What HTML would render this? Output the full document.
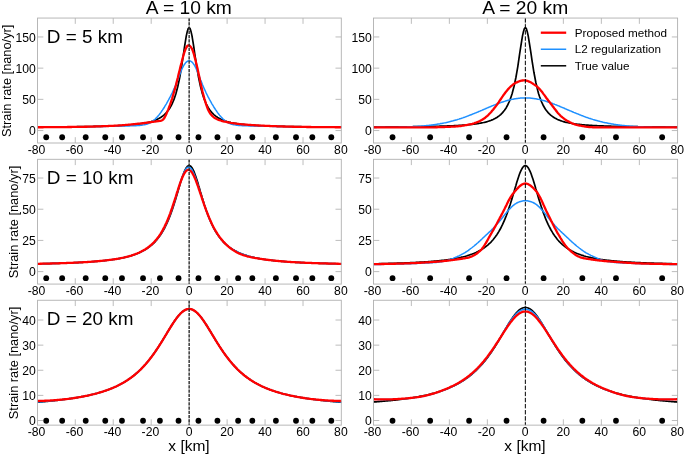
<!DOCTYPE html>
<html><head><meta charset="utf-8"><title>Strain rate</title>
<style>html,body{margin:0;padding:0;background:#fff;}body{width:685px;height:455px;overflow:hidden;font-family:"Liberation Sans",sans-serif;}svg{display:block;will-change:transform;}</style></head>
<body>
<svg width="685" height="455" viewBox="0 0 685 455" font-family="Liberation Sans, sans-serif" fill="#000">
<rect width="685" height="455" fill="#fff"/>
<defs>
<clipPath id="c00"><rect x="37.55" y="18.05" width="303.75" height="124.95"/></clipPath>
<clipPath id="c01"><rect x="373.5" y="18.05" width="304.1" height="124.95"/></clipPath>
<clipPath id="c10"><rect x="37.55" y="159.3" width="303.75" height="124.77"/></clipPath>
<clipPath id="c11"><rect x="373.5" y="159.3" width="304.1" height="124.77"/></clipPath>
<clipPath id="c20"><rect x="37.55" y="300.25" width="303.75" height="124.88"/></clipPath>
<clipPath id="c21"><rect x="373.5" y="300.25" width="304.1" height="124.88"/></clipPath>
</defs>
<g>
<path d="M75.27 143v-5.8M75.27 18.05v5.8M113.23 143v-5.8M113.23 18.05v5.8M151.19 143v-5.8M151.19 18.05v5.8M189.15 143v-5.8M189.15 18.05v5.8M227.11 143v-5.8M227.11 18.05v5.8M265.07 143v-5.8M265.07 18.05v5.8M303.03 143v-5.8M303.03 18.05v5.8M37.55 130.55h5.8M341.3 130.55h-5.8M37.55 99.35h5.8M341.3 99.35h-5.8M37.55 68.15h5.8M341.3 68.15h-5.8M37.55 36.95h5.8M341.3 36.95h-5.8" stroke="#b6b6b6" stroke-width="0.9" fill="none"/>
<g clip-path="url(#c00)" fill="none" stroke-linejoin="round">
<path d="M35.41 127.05L36.4 127.05L37.3 127.04L38.3 127.04L39.2 127.03L40.2 127.03L41.1 127.02L42.1 127.02L43 127.01L44 127.01L44.9 127L45.9 126.99L46.8 126.99L47.7 126.98L48.7 126.98L49.6 126.97L50.6 126.96L51.5 126.96L52.5 126.95L53.4 126.94L54.4 126.94L55.3 126.93L56.3 126.92L57.2 126.92L58.2 126.91L59.1 126.9L60.1 126.89L61 126.89L62 126.88L62.9 126.87L63.9 126.86L64.8 126.85L65.8 126.84L66.7 126.83L67.7 126.82L68.6 126.81L69.6 126.81L70.5 126.8L71.5 126.78L72.4 126.77L73.4 126.76L74.3 126.75L75.3 126.74L76.2 126.73L77.2 126.72L78.1 126.71L79.1 126.69L80 126.68L81 126.67L81.9 126.65L82.9 126.64L83.8 126.63L84.8 126.61L85.7 126.6L86.7 126.58L87.6 126.57L88.6 126.55L89.5 126.53L90.5 126.52L91.4 126.5L92.4 126.48L93.3 126.46L94.3 126.44L95.2 126.42L96.1 126.4L97.1 126.38L98 126.36L99 126.34L99.9 126.31L100.9 126.29L101.8 126.26L102.8 126.24L103.7 126.21L104.7 126.19L105.6 126.16L106.6 126.13L107.5 126.1L108.5 126.07L109.4 126.03L110.4 126L111.3 125.97L112.3 125.93L113.2 125.89L114.2 125.86L115.1 125.82L116.1 125.77L117 125.73L118 125.69L118.9 125.64L119.9 125.59L120.8 125.54L121.8 125.49L122.7 125.43L123.7 125.38L124.6 125.32L125.6 125.25L126.5 125.19L127.5 125.12L128.4 125.05L129.4 124.98L130.3 124.9L131.3 124.82L132.2 124.73L133.2 124.64L134.1 124.55L135.1 124.45L136 124.34L137 124.24L137.9 124.12L138.9 124L139.8 123.87L140.8 123.73L141.7 123.59L142.6 123.44L143.6 123.28L144.5 123.11L145.5 122.92L146.4 122.73L147.4 122.53L148.3 122.31L149.3 122.07L150.2 121.82L151.2 121.56L152.1 121.27L153.1 120.96L154 120.63L155 120.28L155.9 119.89L156.9 119.48L157.8 119.03L158.8 118.55L159.7 118.02L160.7 117.45L161.6 116.82L162.6 116.14L163.5 115.39L164.5 114.56L165.4 113.66L166.4 112.66L167.3 111.56L168.3 110.33L169.2 108.98L170.2 107.46L171.1 105.77L172.1 103.88L173 101.76L174 99.39L174.9 96.71L175.9 93.7L176.8 90.31L177.8 86.51L178.7 82.25L179.7 77.51L180.6 72.27L181.6 66.55L182.5 60.42L183.5 54.02L184.4 47.56L185.4 41.36L186.3 35.83L187.3 31.43L188.2 28.58L189.2 27.59L190.1 28.58L191 31.43L192 35.83L192.9 41.36L193.9 47.56L194.8 54.02L195.8 60.42L196.7 66.55L197.7 72.27L198.6 77.51L199.6 82.25L200.5 86.51L201.5 90.31L202.4 93.7L203.4 96.71L204.3 99.39L205.3 101.76L206.2 103.88L207.2 105.77L208.1 107.46L209.1 108.98L210 110.33L211 111.56L211.9 112.66L212.9 113.66L213.8 114.56L214.8 115.39L215.7 116.14L216.7 116.82L217.6 117.45L218.6 118.02L219.5 118.55L220.5 119.03L221.4 119.48L222.4 119.89L223.3 120.28L224.3 120.63L225.2 120.96L226.2 121.27L227.1 121.56L228.1 121.82L229 122.07L230 122.31L230.9 122.53L231.9 122.73L232.8 122.92L233.8 123.11L234.7 123.28L235.7 123.44L236.6 123.59L237.5 123.73L238.5 123.87L239.4 124L240.4 124.12L241.3 124.24L242.3 124.34L243.2 124.45L244.2 124.55L245.1 124.64L246.1 124.73L247 124.82L248 124.9L248.9 124.98L249.9 125.05L250.8 125.12L251.8 125.19L252.7 125.25L253.7 125.32L254.6 125.38L255.6 125.43L256.5 125.49L257.5 125.54L258.4 125.59L259.4 125.64L260.3 125.69L261.3 125.73L262.2 125.77L263.2 125.82L264.1 125.86L265.1 125.89L266 125.93L267 125.97L267.9 126L268.9 126.03L269.8 126.07L270.8 126.1L271.7 126.13L272.7 126.16L273.6 126.19L274.6 126.21L275.5 126.24L276.5 126.26L277.4 126.29L278.4 126.31L279.3 126.34L280.3 126.36L281.2 126.38L282.2 126.4L283.1 126.42L284.1 126.44L285 126.46L285.9 126.48L286.9 126.5L287.8 126.52L288.8 126.53L289.7 126.55L290.7 126.57L291.6 126.58L292.6 126.6L293.5 126.61L294.5 126.63L295.4 126.64L296.4 126.65L297.3 126.67L298.3 126.68L299.2 126.69L300.2 126.71L301.1 126.72L302.1 126.73L303 126.74L304 126.75L304.9 126.76L305.9 126.77L306.8 126.78L307.8 126.8L308.7 126.81L309.7 126.81L310.6 126.82L311.6 126.83L312.5 126.84L313.5 126.85L314.4 126.86L315.4 126.87L316.3 126.88L317.3 126.89L318.2 126.89L319.2 126.9L320.1 126.91L321.1 126.92L322 126.92L323 126.93L323.9 126.94L324.9 126.94L325.8 126.95L326.8 126.96L327.7 126.96L328.7 126.97L329.6 126.98L330.6 126.98L331.5 126.99L332.4 126.99L333.4 127L334.3 127.01L335.3 127.01L336.2 127.02L337.2 127.02L338.1 127.03L339.1 127.03L340 127.04L341 127.04L341.9 127.05L342.9 127.05" stroke="#000" stroke-width="1.7"/>
<path d="M35.41 127.18L36.4 127.18L37.3 127.17L38.3 127.17L39.2 127.17L40.2 127.16L41.1 127.16L42.1 127.15L43 127.15L44 127.14L44.9 127.14L45.9 127.13L46.8 127.12L47.7 127.12L48.7 127.11L49.6 127.1L50.6 127.1L51.5 127.09L52.5 127.08L53.4 127.08L54.4 127.07L55.3 127.06L56.3 127.05L57.2 127.04L58.2 127.04L59.1 127.03L60.1 127.02L61 127.01L62 127L62.9 126.99L63.9 126.98L64.8 126.97L65.8 126.97L66.7 126.96L67.7 126.95L68.6 126.94L69.6 126.93L70.5 126.92L71.5 126.91L72.4 126.9L73.4 126.89L74.3 126.88L75.3 126.87L76.2 126.86L77.2 126.85L78.1 126.84L79.1 126.82L80 126.81L81 126.8L81.9 126.79L82.9 126.77L83.8 126.76L84.8 126.75L85.7 126.73L86.7 126.72L87.6 126.7L88.6 126.69L89.5 126.67L90.5 126.66L91.4 126.64L92.4 126.63L93.3 126.61L94.3 126.59L95.2 126.58L96.1 126.56L97.1 126.54L98 126.53L99 126.51L99.9 126.49L100.9 126.47L101.8 126.46L102.8 126.44L103.7 126.42L104.7 126.4L105.6 126.39L106.6 126.37L107.5 126.35L108.5 126.33L109.4 126.32L110.4 126.3L111.3 126.28L112.3 126.26L113.2 126.24L114.2 126.23L115.1 126.21L116.1 126.19L117 126.18L118 126.16L118.9 126.14L119.9 126.13L120.8 126.11L121.8 126.09L122.7 126.07L123.7 126.05L124.6 126.03L125.6 126.01L126.5 125.98L127.5 125.96L128.4 125.93L129.4 125.9L130.3 125.87L131.3 125.84L132.2 125.81L133.2 125.77L134.1 125.73L135.1 125.68L136 125.63L137 125.58L137.9 125.52L138.9 125.45L139.8 125.38L140.8 125.28L141.7 125.17L142.6 125.04L143.6 124.88L144.5 124.69L145.5 124.48L146.4 124.24L147.4 123.96L148.3 123.62L149.3 123.2L150.2 122.72L151.2 122.18L152.1 121.57L153.1 120.9L154 120.14L155 119.28L155.9 118.36L156.9 117.36L157.8 116.3L158.8 115.17L159.7 113.95L160.7 112.66L161.6 111.31L162.6 109.92L163.5 108.48L164.5 106.99L165.4 105.44L166.4 103.84L167.3 102.18L168.3 100.48L169.2 98.71L170.2 96.89L171.1 95L172.1 93.05L173 91.03L174 88.92L174.9 86.73L175.9 84.45L176.8 82.11L177.8 79.7L178.7 77.2L179.7 74.65L180.6 72.16L181.6 69.86L182.5 67.81L183.5 66L184.4 64.42L185.4 63.11L186.3 62.11L187.3 61.38L188.2 60.91L189.2 60.75L190.1 60.91L191 61.38L192 62.11L192.9 63.11L193.9 64.42L194.8 66L195.8 67.81L196.7 69.86L197.7 72.16L198.6 74.65L199.6 77.2L200.5 79.7L201.5 82.11L202.4 84.45L203.4 86.73L204.3 88.92L205.3 91.03L206.2 93.05L207.2 95L208.1 96.89L209.1 98.71L210 100.48L211 102.18L211.9 103.84L212.9 105.44L213.8 106.99L214.8 108.48L215.7 109.92L216.7 111.31L217.6 112.66L218.6 113.95L219.5 115.17L220.5 116.3L221.4 117.36L222.4 118.36L223.3 119.28L224.3 120.14L225.2 120.9L226.2 121.57L227.1 122.18L228.1 122.72L229 123.2L230 123.62L230.9 123.96L231.9 124.24L232.8 124.48L233.8 124.69L234.7 124.88L235.7 125.04L236.6 125.17L237.5 125.28L238.5 125.38L239.4 125.45L240.4 125.52L241.3 125.58L242.3 125.63L243.2 125.68L244.2 125.73L245.1 125.77L246.1 125.81L247 125.84L248 125.87L248.9 125.9L249.9 125.93L250.8 125.96L251.8 125.98L252.7 126.01L253.7 126.03L254.6 126.05L255.6 126.07L256.5 126.09L257.5 126.11L258.4 126.13L259.4 126.14L260.3 126.16L261.3 126.18L262.2 126.19L263.2 126.21L264.1 126.23L265.1 126.24L266 126.26L267 126.28L267.9 126.3L268.9 126.32L269.8 126.33L270.8 126.35L271.7 126.37L272.7 126.39L273.6 126.4L274.6 126.42L275.5 126.44L276.5 126.46L277.4 126.47L278.4 126.49L279.3 126.51L280.3 126.53L281.2 126.54L282.2 126.56L283.1 126.58L284.1 126.59L285 126.61L285.9 126.63L286.9 126.64L287.8 126.66L288.8 126.67L289.7 126.69L290.7 126.7L291.6 126.72L292.6 126.73L293.5 126.75L294.5 126.76L295.4 126.77L296.4 126.79L297.3 126.8L298.3 126.81L299.2 126.82L300.2 126.84L301.1 126.85L302.1 126.86L303 126.87L304 126.88L304.9 126.89L305.9 126.9L306.8 126.91L307.8 126.92L308.7 126.93L309.7 126.94L310.6 126.95L311.6 126.96L312.5 126.97L313.5 126.97L314.4 126.98L315.4 126.99L316.3 127L317.3 127.01L318.2 127.02L319.2 127.03L320.1 127.04L321.1 127.04L322 127.05L323 127.06L323.9 127.07L324.9 127.08L325.8 127.08L326.8 127.09L327.7 127.1L328.7 127.1L329.6 127.11L330.6 127.12L331.5 127.12L332.4 127.13L333.4 127.14L334.3 127.14L335.3 127.15L336.2 127.15L337.2 127.16L338.1 127.16L339.1 127.17L340 127.17L341 127.17L341.9 127.18L342.9 127.18" stroke="#1e90ff" stroke-width="1.5"/>
<path d="M35.41 127.24L36.4 127.24L37.3 127.24L38.3 127.24L39.2 127.24L40.2 127.24L41.1 127.23L42.1 127.23L43 127.23L44 127.22L44.9 127.22L45.9 127.21L46.8 127.21L47.7 127.2L48.7 127.2L49.6 127.19L50.6 127.19L51.5 127.18L52.5 127.17L53.4 127.16L54.4 127.16L55.3 127.15L56.3 127.14L57.2 127.13L58.2 127.12L59.1 127.11L60.1 127.1L61 127.09L62 127.09L62.9 127.08L63.9 127.06L64.8 127.05L65.8 127.04L66.7 127.03L67.7 127.02L68.6 127.01L69.6 127L70.5 126.99L71.5 126.98L72.4 126.97L73.4 126.95L74.3 126.94L75.3 126.93L76.2 126.92L77.2 126.9L78.1 126.89L79.1 126.88L80 126.86L81 126.84L81.9 126.83L82.9 126.81L83.8 126.79L84.8 126.77L85.7 126.75L86.7 126.73L87.6 126.7L88.6 126.68L89.5 126.66L90.5 126.63L91.4 126.61L92.4 126.58L93.3 126.55L94.3 126.52L95.2 126.5L96.1 126.47L97.1 126.44L98 126.4L99 126.37L99.9 126.34L100.9 126.31L101.8 126.27L102.8 126.24L103.7 126.2L104.7 126.17L105.6 126.13L106.6 126.09L107.5 126.05L108.5 126.01L109.4 125.97L110.4 125.93L111.3 125.89L112.3 125.85L113.2 125.81L114.2 125.76L115.1 125.71L116.1 125.66L117 125.6L118 125.55L118.9 125.48L119.9 125.42L120.8 125.35L121.8 125.28L122.7 125.2L123.7 125.13L124.6 125.05L125.6 124.97L126.5 124.88L127.5 124.8L128.4 124.71L129.4 124.62L130.3 124.53L131.3 124.44L132.2 124.34L133.2 124.25L134.1 124.15L135.1 124.05L136 123.96L137 123.86L137.9 123.76L138.9 123.66L139.8 123.56L140.8 123.46L141.7 123.35L142.6 123.24L143.6 123.13L144.5 123.01L145.5 122.89L146.4 122.76L147.4 122.64L148.3 122.51L149.3 122.38L150.2 122.24L151.2 122.11L152.1 121.97L153.1 121.84L154 121.7L155 121.57L155.9 121.45L156.9 121.33L157.8 121.22L158.8 121.1L159.7 120.96L160.7 120.78L161.6 120.51L162.6 120.02L163.5 119.12L164.5 117.74L165.4 115.95L166.4 113.88L167.3 111.65L168.3 109.35L169.2 106.96L170.2 104.4L171.1 101.61L172.1 98.61L173 95.47L174 92.21L174.9 88.84L175.9 85.34L176.8 81.64L177.8 77.78L178.7 73.85L179.7 69.94L180.6 66.13L181.6 62.44L182.5 58.8L183.5 55.28L184.4 52.12L185.4 49.51L186.3 47.48L187.3 46.02L188.2 45.3L189.2 45.39L190.1 46.1L191 47.26L192 48.89L192.9 51.2L193.9 54.19L194.8 57.68L195.8 61.41L196.7 65.28L197.7 69.38L198.6 73.76L199.6 78.33L200.5 82.9L201.5 87.27L202.4 91.28L203.4 94.93L204.3 98.37L205.3 101.65L206.2 104.71L207.2 107.46L208.1 109.8L209.1 111.69L210 113.2L211 114.46L211.9 115.56L212.9 116.52L213.8 117.33L214.8 118.01L215.7 118.56L216.7 119.04L217.6 119.46L218.6 119.83L219.5 120.18L220.5 120.49L221.4 120.78L222.4 121.04L223.3 121.28L224.3 121.51L225.2 121.73L226.2 121.93L227.1 122.13L228.1 122.33L229 122.51L230 122.69L230.9 122.86L231.9 123.02L232.8 123.17L233.8 123.32L234.7 123.46L235.7 123.59L236.6 123.71L237.5 123.83L238.5 123.94L239.4 124.04L240.4 124.13L241.3 124.23L242.3 124.31L243.2 124.4L244.2 124.49L245.1 124.57L246.1 124.65L247 124.72L248 124.8L248.9 124.87L249.9 124.94L250.8 125.01L251.8 125.08L252.7 125.14L253.7 125.2L254.6 125.26L255.6 125.32L256.5 125.38L257.5 125.43L258.4 125.49L259.4 125.54L260.3 125.59L261.3 125.63L262.2 125.68L263.2 125.72L264.1 125.77L265.1 125.81L266 125.85L267 125.89L267.9 125.93L268.9 125.97L269.8 126L270.8 126.04L271.7 126.08L272.7 126.12L273.6 126.15L274.6 126.19L275.5 126.22L276.5 126.26L277.4 126.29L278.4 126.32L279.3 126.36L280.3 126.39L281.2 126.42L282.2 126.45L283.1 126.48L284.1 126.51L285 126.54L285.9 126.57L286.9 126.6L287.8 126.62L288.8 126.65L289.7 126.67L290.7 126.7L291.6 126.72L292.6 126.74L293.5 126.76L294.5 126.78L295.4 126.8L296.4 126.82L297.3 126.84L298.3 126.86L299.2 126.88L300.2 126.89L301.1 126.9L302.1 126.92L303 126.93L304 126.94L304.9 126.95L305.9 126.97L306.8 126.98L307.8 126.99L308.7 127L309.7 127.01L310.6 127.02L311.6 127.03L312.5 127.04L313.5 127.05L314.4 127.06L315.4 127.08L316.3 127.09L317.3 127.09L318.2 127.1L319.2 127.11L320.1 127.12L321.1 127.13L322 127.14L323 127.15L323.9 127.16L324.9 127.16L325.8 127.17L326.8 127.18L327.7 127.19L328.7 127.19L329.6 127.2L330.6 127.2L331.5 127.21L332.4 127.21L333.4 127.22L334.3 127.22L335.3 127.23L336.2 127.23L337.2 127.23L338.1 127.24L339.1 127.24L340 127.24L341 127.24L341.9 127.24L342.9 127.24" stroke="#ff0000" stroke-width="2.3"/>
</g>
<circle cx="46.23" cy="137.23" r="2.9" fill="#000"/>
<circle cx="62.17" cy="137.23" r="2.9" fill="#000"/>
<circle cx="85.71" cy="137.23" r="2.9" fill="#000"/>
<circle cx="105.26" cy="137.23" r="2.9" fill="#000"/>
<circle cx="121.96" cy="137.23" r="2.9" fill="#000"/>
<circle cx="143.03" cy="137.23" r="2.9" fill="#000"/>
<circle cx="159.92" cy="137.23" r="2.9" fill="#000"/>
<circle cx="178.52" cy="137.23" r="2.9" fill="#000"/>
<circle cx="198.45" cy="137.23" r="2.9" fill="#000"/>
<circle cx="217.43" cy="137.23" r="2.9" fill="#000"/>
<circle cx="238.12" cy="137.23" r="2.9" fill="#000"/>
<circle cx="252.35" cy="137.23" r="2.9" fill="#000"/>
<circle cx="275.89" cy="137.23" r="2.9" fill="#000"/>
<circle cx="296.01" cy="137.23" r="2.9" fill="#000"/>
<circle cx="312.33" cy="137.23" r="2.9" fill="#000"/>
<circle cx="331.31" cy="137.23" r="2.9" fill="#000"/>
<path d="M189.15 18.05V143" stroke="#2a2a2a" stroke-width="1.4" stroke-dasharray="3.25 1.0" fill="none"/>
<rect x="37.55" y="18.05" width="303.75" height="124.95" fill="none" stroke="#b0b0b0" stroke-width="0.9"/>
<g font-size="12.9" text-anchor="middle">
<text transform="translate(36.51 154) scale(0.945 1)">-80</text>
<text transform="translate(74.47 154) scale(0.945 1)">-60</text>
<text transform="translate(112.43 154) scale(0.945 1)">-40</text>
<text transform="translate(150.39 154) scale(0.945 1)">-20</text>
<text transform="translate(189.05 154) scale(0.945 1)">0</text>
<text transform="translate(227.01 154) scale(0.945 1)">20</text>
<text transform="translate(264.97 154) scale(0.945 1)">40</text>
<text transform="translate(302.93 154) scale(0.945 1)">60</text>
<text transform="translate(340.89 154) scale(0.945 1)">80</text>
</g>
<g font-size="12.9" text-anchor="end">
<text transform="translate(35.85 135.3) scale(0.945 1)">0</text>
<text transform="translate(35.85 104.1) scale(0.945 1)">50</text>
<text transform="translate(35.85 72.9) scale(0.945 1)">100</text>
<text transform="translate(35.85 41.7) scale(0.945 1)">150</text>
</g>
<text x="46.8" y="42.95" font-size="18.9">D = 5 km</text>
<text transform="translate(10.5 80.83) rotate(-90)" text-anchor="middle" font-size="12.8">Strain rate [nano/yr]</text>
</g>
<g>
<path d="M411.35 143v-5.8M411.35 18.05v5.8M449.35 143v-5.8M449.35 18.05v5.8M487.35 143v-5.8M487.35 18.05v5.8M525.35 143v-5.8M525.35 18.05v5.8M563.35 143v-5.8M563.35 18.05v5.8M601.35 143v-5.8M601.35 18.05v5.8M639.35 143v-5.8M639.35 18.05v5.8M373.5 130.55h5.8M677.6 130.55h-5.8M373.5 99.35h5.8M677.6 99.35h-5.8M373.5 68.15h5.8M677.6 68.15h-5.8M373.5 36.95h5.8M677.6 36.95h-5.8" stroke="#b6b6b6" stroke-width="0.9" fill="none"/>
<g clip-path="url(#c01)" fill="none" stroke-linejoin="round">
<path d="M371.45 127.05L372.4 127.05L373.4 127.04L374.3 127.04L375.2 127.03L376.2 127.03L377.2 127.02L378.1 127.02L379.1 127.01L380 127.01L381 127L381.9 126.99L382.9 126.99L383.8 126.98L384.8 126.98L385.7 126.97L386.7 126.96L387.6 126.96L388.6 126.95L389.5 126.94L390.5 126.94L391.4 126.93L392.4 126.92L393.3 126.92L394.2 126.91L395.2 126.9L396.2 126.89L397.1 126.89L398.1 126.88L399 126.87L400 126.86L400.9 126.85L401.9 126.84L402.8 126.83L403.8 126.82L404.7 126.81L405.7 126.81L406.6 126.8L407.6 126.78L408.5 126.77L409.5 126.76L410.4 126.75L411.4 126.74L412.3 126.73L413.2 126.72L414.2 126.71L415.2 126.69L416.1 126.68L417.1 126.67L418 126.65L419 126.64L419.9 126.63L420.9 126.61L421.8 126.6L422.8 126.58L423.7 126.57L424.7 126.55L425.6 126.53L426.6 126.52L427.5 126.5L428.5 126.48L429.4 126.46L430.4 126.44L431.3 126.42L432.2 126.4L433.2 126.38L434.2 126.36L435.1 126.34L436.1 126.31L437 126.29L438 126.26L438.9 126.24L439.9 126.21L440.8 126.19L441.8 126.16L442.7 126.13L443.7 126.1L444.6 126.07L445.6 126.03L446.5 126L447.5 125.97L448.4 125.93L449.4 125.89L450.3 125.86L451.2 125.82L452.2 125.77L453.2 125.73L454.1 125.69L455.1 125.64L456 125.59L457 125.54L457.9 125.49L458.9 125.43L459.8 125.38L460.8 125.32L461.7 125.25L462.7 125.19L463.6 125.12L464.6 125.05L465.5 124.98L466.5 124.9L467.4 124.82L468.4 124.73L469.3 124.64L470.2 124.55L471.2 124.45L472.2 124.34L473.1 124.24L474.1 124.12L475 124L476 123.87L476.9 123.73L477.9 123.59L478.8 123.44L479.8 123.28L480.7 123.11L481.7 122.92L482.6 122.73L483.6 122.53L484.5 122.31L485.5 122.07L486.4 121.82L487.4 121.56L488.3 121.27L489.2 120.96L490.2 120.63L491.2 120.28L492.1 119.89L493.1 119.48L494 119.03L495 118.55L495.9 118.02L496.9 117.45L497.8 116.82L498.8 116.14L499.7 115.39L500.7 114.56L501.6 113.66L502.6 112.66L503.5 111.56L504.5 110.33L505.4 108.98L506.4 107.46L507.3 105.77L508.2 103.88L509.2 101.76L510.2 99.39L511.1 96.71L512.1 93.7L513 90.31L514 86.51L514.9 82.25L515.9 77.51L516.8 72.27L517.8 66.55L518.7 60.42L519.6 54.02L520.6 47.56L521.6 41.36L522.5 35.83L523.5 31.43L524.4 28.58L525.4 27.59L526.3 28.58L527.2 31.43L528.2 35.83L529.1 41.36L530.1 47.56L531.1 54.02L532 60.42L533 66.55L533.9 72.27L534.9 77.51L535.8 82.25L536.8 86.51L537.7 90.31L538.6 93.7L539.6 96.71L540.6 99.39L541.5 101.76L542.5 103.88L543.4 105.77L544.4 107.46L545.3 108.98L546.2 110.33L547.2 111.56L548.1 112.66L549.1 113.66L550.1 114.56L551 115.39L552 116.14L552.9 116.82L553.9 117.45L554.8 118.02L555.8 118.55L556.7 119.03L557.6 119.48L558.6 119.89L559.6 120.28L560.5 120.63L561.5 120.96L562.4 121.27L563.4 121.56L564.3 121.82L565.2 122.07L566.2 122.31L567.1 122.53L568.1 122.73L569.1 122.92L570 123.11L571 123.28L571.9 123.44L572.9 123.59L573.8 123.73L574.8 123.87L575.7 124L576.6 124.12L577.6 124.24L578.6 124.34L579.5 124.45L580.5 124.55L581.4 124.64L582.4 124.73L583.3 124.82L584.2 124.9L585.2 124.98L586.1 125.05L587.1 125.12L588.1 125.19L589 125.25L590 125.32L590.9 125.38L591.9 125.43L592.8 125.49L593.8 125.54L594.7 125.59L595.6 125.64L596.6 125.69L597.6 125.73L598.5 125.77L599.5 125.82L600.4 125.86L601.4 125.89L602.3 125.93L603.2 125.97L604.2 126L605.1 126.03L606.1 126.07L607.1 126.1L608 126.13L609 126.16L609.9 126.19L610.9 126.21L611.8 126.24L612.8 126.26L613.7 126.29L614.6 126.31L615.6 126.34L616.5 126.36L617.5 126.38L618.5 126.4L619.4 126.42L620.4 126.44L621.3 126.46L622.2 126.48L623.2 126.5L624.1 126.52L625.1 126.53L626 126.55L627 126.57L628 126.58L628.9 126.6L629.9 126.61L630.8 126.63L631.8 126.64L632.7 126.65L633.6 126.67L634.6 126.68L635.5 126.69L636.5 126.71L637.5 126.72L638.4 126.73L639.4 126.74L640.3 126.75L641.2 126.76L642.2 126.77L643.1 126.78L644.1 126.8L645 126.81L646 126.81L647 126.82L647.9 126.83L648.9 126.84L649.8 126.85L650.8 126.86L651.7 126.87L652.6 126.88L653.6 126.89L654.5 126.89L655.5 126.9L656.5 126.91L657.4 126.92L658.4 126.92L659.3 126.93L660.2 126.94L661.2 126.94L662.1 126.95L663.1 126.96L664 126.96L665 126.97L666 126.98L666.9 126.98L667.9 126.99L668.8 126.99L669.8 127L670.7 127.01L671.6 127.01L672.6 127.02L673.5 127.02L674.5 127.03L675.5 127.03L676.4 127.04L677.4 127.04L678.3 127.05L679.2 127.05" stroke="#000" stroke-width="1.7"/>
<path d="M371.45 127.4L372.4 127.39L373.4 127.39L374.3 127.39L375.2 127.38L376.2 127.38L377.2 127.37L378.1 127.37L379.1 127.37L380 127.36L381 127.35L381.9 127.35L382.9 127.34L383.8 127.33L384.8 127.33L385.7 127.32L386.7 127.31L387.6 127.3L388.6 127.29L389.5 127.28L390.5 127.27L391.4 127.26L392.4 127.24L393.3 127.23L394.2 127.21L395.2 127.2L396.2 127.18L397.1 127.16L398.1 127.14L399 127.12L400 127.1L400.9 127.08L401.9 127.05L402.8 127.03L403.8 127L404.7 126.97L405.7 126.94L406.6 126.91L407.6 126.87L408.5 126.84L409.5 126.8L410.4 126.76L411.4 126.71L412.3 126.67L413.2 126.62L414.2 126.57L415.2 126.52L416.1 126.46L417.1 126.4L418 126.34L419 126.27L419.9 126.21L420.9 126.13L421.8 126.06L422.8 125.98L423.7 125.9L424.7 125.81L425.6 125.72L426.6 125.62L427.5 125.52L428.5 125.42L429.4 125.31L430.4 125.2L431.3 125.08L432.2 124.96L433.2 124.83L434.2 124.7L435.1 124.56L436.1 124.42L437 124.27L438 124.11L438.9 123.95L439.9 123.79L440.8 123.61L441.8 123.44L442.7 123.25L443.7 123.06L444.6 122.86L445.6 122.66L446.5 122.45L447.5 122.23L448.4 122.01L449.4 121.78L450.3 121.54L451.2 121.3L452.2 121.05L453.2 120.79L454.1 120.53L455.1 120.25L456 119.98L457 119.69L457.9 119.4L458.9 119.1L459.8 118.8L460.8 118.49L461.7 118.17L462.7 117.85L463.6 117.52L464.6 117.18L465.5 116.84L466.5 116.49L467.4 116.14L468.4 115.78L469.3 115.42L470.2 115.05L471.2 114.68L472.2 114.3L473.1 113.92L474.1 113.53L475 113.14L476 112.75L476.9 112.35L477.9 111.95L478.8 111.55L479.8 111.15L480.7 110.75L481.7 110.34L482.6 109.93L483.6 109.53L484.5 109.12L485.5 108.71L486.4 108.31L487.4 107.91L488.3 107.5L489.2 107.1L490.2 106.7L491.2 106.31L492.1 105.92L493.1 105.53L494 105.15L495 104.77L495.9 104.4L496.9 104.04L497.8 103.68L498.8 103.32L499.7 102.98L500.7 102.64L501.6 102.31L502.6 101.99L503.5 101.68L504.5 101.38L505.4 101.09L506.4 100.81L507.3 100.54L508.2 100.28L509.2 100.04L510.2 99.8L511.1 99.58L512.1 99.37L513 99.18L514 98.99L514.9 98.82L515.9 98.67L516.8 98.53L517.8 98.4L518.7 98.29L519.6 98.19L520.6 98.1L521.6 98.04L522.5 97.98L523.5 97.95L524.4 97.92L525.4 97.91L526.3 97.92L527.2 97.95L528.2 97.98L529.1 98.04L530.1 98.1L531.1 98.19L532 98.29L533 98.4L533.9 98.53L534.9 98.67L535.8 98.82L536.8 98.99L537.7 99.18L538.6 99.37L539.6 99.58L540.6 99.8L541.5 100.04L542.5 100.28L543.4 100.54L544.4 100.81L545.3 101.09L546.2 101.38L547.2 101.68L548.1 101.99L549.1 102.31L550.1 102.64L551 102.98L552 103.32L552.9 103.68L553.9 104.04L554.8 104.4L555.8 104.77L556.7 105.15L557.6 105.53L558.6 105.92L559.6 106.31L560.5 106.7L561.5 107.1L562.4 107.5L563.4 107.91L564.3 108.31L565.2 108.71L566.2 109.12L567.1 109.53L568.1 109.93L569.1 110.34L570 110.75L571 111.15L571.9 111.55L572.9 111.95L573.8 112.35L574.8 112.75L575.7 113.14L576.6 113.53L577.6 113.92L578.6 114.3L579.5 114.68L580.5 115.05L581.4 115.42L582.4 115.78L583.3 116.14L584.2 116.49L585.2 116.84L586.1 117.18L587.1 117.52L588.1 117.85L589 118.17L590 118.49L590.9 118.8L591.9 119.1L592.8 119.4L593.8 119.69L594.7 119.98L595.6 120.25L596.6 120.53L597.6 120.79L598.5 121.05L599.5 121.3L600.4 121.54L601.4 121.78L602.3 122.01L603.2 122.23L604.2 122.45L605.1 122.66L606.1 122.86L607.1 123.06L608 123.25L609 123.44L609.9 123.61L610.9 123.79L611.8 123.95L612.8 124.11L613.7 124.27L614.6 124.42L615.6 124.56L616.5 124.7L617.5 124.83L618.5 124.96L619.4 125.08L620.4 125.2L621.3 125.31L622.2 125.42L623.2 125.52L624.1 125.62L625.1 125.72L626 125.81L627 125.9L628 125.98L628.9 126.06L629.9 126.13L630.8 126.21L631.8 126.27L632.7 126.34L633.6 126.4L634.6 126.46L635.5 126.52L636.5 126.57L637.5 126.62L638.4 126.67L639.4 126.71L640.3 126.76L641.2 126.8L642.2 126.84L643.1 126.87L644.1 126.91L645 126.94L646 126.97L647 127L647.9 127.03L648.9 127.05L649.8 127.08L650.8 127.1L651.7 127.12L652.6 127.14L653.6 127.16L654.5 127.18L655.5 127.2L656.5 127.21L657.4 127.23L658.4 127.24L659.3 127.26L660.2 127.27L661.2 127.28L662.1 127.29L663.1 127.3L664 127.31L665 127.32L666 127.33L666.9 127.33L667.9 127.34L668.8 127.35L669.8 127.35L670.7 127.36L671.6 127.37L672.6 127.37L673.5 127.37L674.5 127.38L675.5 127.38L676.4 127.39L677.4 127.39L678.3 127.39L679.2 127.4" stroke="#1e90ff" stroke-width="1.5"/>
<path d="M371.45 127.37L372.4 127.37L373.4 127.37L374.3 127.37L375.2 127.37L376.2 127.37L377.2 127.37L378.1 127.37L379.1 127.37L380 127.37L381 127.37L381.9 127.37L382.9 127.37L383.8 127.37L384.8 127.37L385.7 127.37L386.7 127.37L387.6 127.37L388.6 127.37L389.5 127.37L390.5 127.37L391.4 127.37L392.4 127.37L393.3 127.37L394.2 127.37L395.2 127.37L396.2 127.37L397.1 127.37L398.1 127.37L399 127.37L400 127.37L400.9 127.37L401.9 127.37L402.8 127.37L403.8 127.37L404.7 127.37L405.7 127.37L406.6 127.37L407.6 127.37L408.5 127.37L409.5 127.37L410.4 127.37L411.4 127.37L412.3 127.37L413.2 127.37L414.2 127.37L415.2 127.37L416.1 127.37L417.1 127.37L418 127.37L419 127.37L419.9 127.37L420.9 127.37L421.8 127.37L422.8 127.37L423.7 127.37L424.7 127.37L425.6 127.37L426.6 127.37L427.5 127.36L428.5 127.36L429.4 127.36L430.4 127.35L431.3 127.34L432.2 127.33L433.2 127.32L434.2 127.3L435.1 127.28L436.1 127.27L437 127.24L438 127.22L438.9 127.2L439.9 127.17L440.8 127.14L441.8 127.11L442.7 127.08L443.7 127.04L444.6 127.01L445.6 126.97L446.5 126.93L447.5 126.89L448.4 126.85L449.4 126.81L450.3 126.76L451.2 126.72L452.2 126.67L453.2 126.62L454.1 126.57L455.1 126.52L456 126.45L457 126.38L457.9 126.3L458.9 126.21L459.8 126.11L460.8 125.99L461.7 125.86L462.7 125.72L463.6 125.57L464.6 125.41L465.5 125.24L466.5 125.06L467.4 124.87L468.4 124.67L469.3 124.47L470.2 124.25L471.2 124.02L472.2 123.78L473.1 123.53L474.1 123.25L475 122.95L476 122.62L476.9 122.25L477.9 121.86L478.8 121.43L479.8 120.98L480.7 120.49L481.7 119.97L482.6 119.42L483.6 118.83L484.5 118.19L485.5 117.49L486.4 116.73L487.4 115.89L488.3 114.98L489.2 114.01L490.2 112.99L491.2 111.92L492.1 110.82L493.1 109.69L494 108.53L495 107.34L495.9 106.11L496.9 104.84L497.8 103.51L498.8 102.13L499.7 100.71L500.7 99.27L501.6 97.84L502.6 96.43L503.5 95.07L504.5 93.77L505.4 92.52L506.4 91.33L507.3 90.19L508.2 89.09L509.2 88.04L510.2 87.04L511.1 86.12L512.1 85.29L513 84.55L514 83.9L514.9 83.33L515.9 82.82L516.8 82.35L517.8 81.92L518.7 81.53L519.6 81.19L520.6 80.89L521.6 80.65L522.5 80.48L523.5 80.39L524.4 80.38L525.4 80.45L526.3 80.61L527.2 80.86L528.2 81.18L529.1 81.58L530.1 82.04L531.1 82.55L532 83.11L533 83.71L533.9 84.34L534.9 84.99L535.8 85.69L536.8 86.43L537.7 87.23L538.6 88.12L539.6 89.11L540.6 90.18L541.5 91.34L542.5 92.57L543.4 93.84L544.4 95.14L545.3 96.44L546.2 97.74L547.2 99.01L548.1 100.27L549.1 101.51L550.1 102.75L551 104L552 105.26L552.9 106.53L553.9 107.8L554.8 109.06L555.8 110.3L556.7 111.51L557.6 112.67L558.6 113.77L559.6 114.81L560.5 115.77L561.5 116.65L562.4 117.45L563.4 118.19L564.3 118.88L565.2 119.53L566.2 120.15L567.1 120.74L568.1 121.3L569.1 121.84L570 122.34L571 122.82L571.9 123.26L572.9 123.66L573.8 124.03L574.8 124.36L575.7 124.65L576.6 124.91L577.6 125.14L578.6 125.35L579.5 125.55L580.5 125.74L581.4 125.91L582.4 126.08L583.3 126.24L584.2 126.4L585.2 126.54L586.1 126.67L587.1 126.79L588.1 126.9L589 127L590 127.08L590.9 127.15L591.9 127.21L592.8 127.25L593.8 127.28L594.7 127.3L595.6 127.32L596.6 127.33L597.6 127.34L598.5 127.34L599.5 127.35L600.4 127.36L601.4 127.36L602.3 127.37L603.2 127.38L604.2 127.38L605.1 127.39L606.1 127.39L607.1 127.4L608 127.4L609 127.41L609.9 127.41L610.9 127.41L611.8 127.42L612.8 127.42L613.7 127.42L614.6 127.42L615.6 127.43L616.5 127.43L617.5 127.43L618.5 127.43L619.4 127.43L620.4 127.43L621.3 127.43L622.2 127.43L623.2 127.43L624.1 127.43L625.1 127.43L626 127.43L627 127.43L628 127.43L628.9 127.43L629.9 127.43L630.8 127.43L631.8 127.43L632.7 127.43L633.6 127.43L634.6 127.43L635.5 127.43L636.5 127.43L637.5 127.43L638.4 127.43L639.4 127.43L640.3 127.43L641.2 127.43L642.2 127.43L643.1 127.43L644.1 127.43L645 127.43L646 127.43L647 127.43L647.9 127.43L648.9 127.43L649.8 127.43L650.8 127.43L651.7 127.43L652.6 127.43L653.6 127.43L654.5 127.43L655.5 127.43L656.5 127.43L657.4 127.43L658.4 127.43L659.3 127.43L660.2 127.43L661.2 127.43L662.1 127.43L663.1 127.43L664 127.43L665 127.43L666 127.43L666.9 127.43L667.9 127.43L668.8 127.43L669.8 127.43L670.7 127.43L671.6 127.43L672.6 127.43L673.5 127.43L674.5 127.43L675.5 127.43L676.4 127.43L677.4 127.43L678.3 127.43L679.2 127.43" stroke="#ff0000" stroke-width="2.3"/>
</g>
<circle cx="392.54" cy="137.23" r="2.9" fill="#000"/>
<circle cx="430.16" cy="137.23" r="2.9" fill="#000"/>
<circle cx="469.11" cy="137.23" r="2.9" fill="#000"/>
<circle cx="506.54" cy="137.23" r="2.9" fill="#000"/>
<circle cx="543.59" cy="137.23" r="2.9" fill="#000"/>
<circle cx="582.35" cy="137.23" r="2.9" fill="#000"/>
<circle cx="615.98" cy="137.23" r="2.9" fill="#000"/>
<circle cx="662.15" cy="137.23" r="2.9" fill="#000"/>
<path d="M525.35 18.05V143" stroke="#000" stroke-width="1.0" stroke-dasharray="4.4 1.7" fill="none"/>
<rect x="373.5" y="18.05" width="304.1" height="124.95" fill="none" stroke="#b0b0b0" stroke-width="0.9"/>
<g font-size="12.9" text-anchor="middle">
<text transform="translate(372.55 154) scale(0.945 1)">-80</text>
<text transform="translate(410.55 154) scale(0.945 1)">-60</text>
<text transform="translate(448.55 154) scale(0.945 1)">-40</text>
<text transform="translate(486.55 154) scale(0.945 1)">-20</text>
<text transform="translate(525.25 154) scale(0.945 1)">0</text>
<text transform="translate(563.25 154) scale(0.945 1)">20</text>
<text transform="translate(601.25 154) scale(0.945 1)">40</text>
<text transform="translate(639.25 154) scale(0.945 1)">60</text>
<text transform="translate(677.25 154) scale(0.945 1)">80</text>
</g>
<g font-size="12.9" text-anchor="end">
<text transform="translate(371.8 135.3) scale(0.945 1)">0</text>
<text transform="translate(371.8 104.1) scale(0.945 1)">50</text>
<text transform="translate(371.8 72.9) scale(0.945 1)">100</text>
<text transform="translate(371.8 41.7) scale(0.945 1)">150</text>
</g>
</g>
<g>
<path d="M75.27 284.07v-5.8M75.27 159.3v5.8M113.23 284.07v-5.8M113.23 159.3v5.8M151.19 284.07v-5.8M151.19 159.3v5.8M189.15 284.07v-5.8M189.15 159.3v5.8M227.11 284.07v-5.8M227.11 159.3v5.8M265.07 284.07v-5.8M265.07 159.3v5.8M303.03 284.07v-5.8M303.03 159.3v5.8M37.55 271.6h5.8M341.3 271.6h-5.8M37.55 240.41h5.8M341.3 240.41h-5.8M37.55 209.22h5.8M341.3 209.22h-5.8M37.55 178.02h5.8M341.3 178.02h-5.8" stroke="#b6b6b6" stroke-width="0.9" fill="none"/>
<g clip-path="url(#c10)" fill="none" stroke-linejoin="round">
<path d="M35.41 263.86L36.4 263.84L37.3 263.83L38.3 263.81L39.2 263.79L40.2 263.77L41.1 263.75L42.1 263.73L43 263.71L44 263.68L44.9 263.66L45.9 263.64L46.8 263.62L47.7 263.59L48.7 263.57L49.6 263.55L50.6 263.52L51.5 263.5L52.5 263.47L53.4 263.45L54.4 263.42L55.3 263.39L56.3 263.37L57.2 263.34L58.2 263.31L59.1 263.28L60.1 263.25L61 263.22L62 263.19L62.9 263.15L63.9 263.12L64.8 263.09L65.8 263.05L66.7 263.02L67.7 262.98L68.6 262.95L69.6 262.91L70.5 262.87L71.5 262.83L72.4 262.79L73.4 262.75L74.3 262.71L75.3 262.66L76.2 262.62L77.2 262.57L78.1 262.53L79.1 262.48L80 262.43L81 262.38L81.9 262.33L82.9 262.28L83.8 262.22L84.8 262.17L85.7 262.11L86.7 262.05L87.6 261.99L88.6 261.93L89.5 261.87L90.5 261.8L91.4 261.73L92.4 261.67L93.3 261.6L94.3 261.52L95.2 261.45L96.1 261.37L97.1 261.29L98 261.21L99 261.13L99.9 261.04L100.9 260.95L101.8 260.86L102.8 260.76L103.7 260.66L104.7 260.56L105.6 260.46L106.6 260.35L107.5 260.24L108.5 260.13L109.4 260.01L110.4 259.88L111.3 259.76L112.3 259.63L113.2 259.49L114.2 259.35L115.1 259.2L116.1 259.05L117 258.9L118 258.73L118.9 258.57L119.9 258.39L120.8 258.21L121.8 258.02L122.7 257.83L123.7 257.63L124.6 257.41L125.6 257.19L126.5 256.97L127.5 256.73L128.4 256.48L129.4 256.22L130.3 255.95L131.3 255.67L132.2 255.38L133.2 255.07L134.1 254.75L135.1 254.42L136 254.07L137 253.7L137.9 253.32L138.9 252.92L139.8 252.5L140.8 252.06L141.7 251.59L142.6 251.11L143.6 250.6L144.5 250.06L145.5 249.49L146.4 248.9L147.4 248.27L148.3 247.61L149.3 246.91L150.2 246.18L151.2 245.4L152.1 244.58L153.1 243.71L154 242.79L155 241.82L155.9 240.79L156.9 239.7L157.8 238.55L158.8 237.32L159.7 236.03L160.7 234.65L161.6 233.19L162.6 231.64L163.5 230L164.5 228.26L165.4 226.41L166.4 224.45L167.3 222.38L168.3 220.2L169.2 217.89L170.2 215.45L171.1 212.9L172.1 210.21L173 207.41L174 204.5L174.9 201.48L175.9 198.37L176.8 195.19L177.8 191.97L178.7 188.73L179.7 185.51L180.6 182.35L181.6 179.31L182.5 176.44L183.5 173.79L184.4 171.42L185.4 169.38L186.3 167.74L187.3 166.53L188.2 165.79L189.2 165.55L190.1 165.79L191 166.53L192 167.74L192.9 169.38L193.9 171.42L194.8 173.79L195.8 176.44L196.7 179.31L197.7 182.35L198.6 185.51L199.6 188.73L200.5 191.97L201.5 195.19L202.4 198.37L203.4 201.48L204.3 204.5L205.3 207.41L206.2 210.21L207.2 212.9L208.1 215.45L209.1 217.89L210 220.2L211 222.38L211.9 224.45L212.9 226.41L213.8 228.26L214.8 230L215.7 231.64L216.7 233.19L217.6 234.65L218.6 236.03L219.5 237.32L220.5 238.55L221.4 239.7L222.4 240.79L223.3 241.82L224.3 242.79L225.2 243.71L226.2 244.58L227.1 245.4L228.1 246.18L229 246.91L230 247.61L230.9 248.27L231.9 248.9L232.8 249.49L233.8 250.06L234.7 250.6L235.7 251.11L236.6 251.59L237.5 252.06L238.5 252.5L239.4 252.92L240.4 253.32L241.3 253.7L242.3 254.07L243.2 254.42L244.2 254.75L245.1 255.07L246.1 255.38L247 255.67L248 255.95L248.9 256.22L249.9 256.48L250.8 256.73L251.8 256.97L252.7 257.19L253.7 257.41L254.6 257.63L255.6 257.83L256.5 258.02L257.5 258.21L258.4 258.39L259.4 258.57L260.3 258.73L261.3 258.9L262.2 259.05L263.2 259.2L264.1 259.35L265.1 259.49L266 259.63L267 259.76L267.9 259.88L268.9 260.01L269.8 260.13L270.8 260.24L271.7 260.35L272.7 260.46L273.6 260.56L274.6 260.66L275.5 260.76L276.5 260.86L277.4 260.95L278.4 261.04L279.3 261.13L280.3 261.21L281.2 261.29L282.2 261.37L283.1 261.45L284.1 261.52L285 261.6L285.9 261.67L286.9 261.73L287.8 261.8L288.8 261.87L289.7 261.93L290.7 261.99L291.6 262.05L292.6 262.11L293.5 262.17L294.5 262.22L295.4 262.28L296.4 262.33L297.3 262.38L298.3 262.43L299.2 262.48L300.2 262.53L301.1 262.57L302.1 262.62L303 262.66L304 262.71L304.9 262.75L305.9 262.79L306.8 262.83L307.8 262.87L308.7 262.91L309.7 262.95L310.6 262.98L311.6 263.02L312.5 263.05L313.5 263.09L314.4 263.12L315.4 263.15L316.3 263.19L317.3 263.22L318.2 263.25L319.2 263.28L320.1 263.31L321.1 263.34L322 263.37L323 263.39L323.9 263.42L324.9 263.45L325.8 263.47L326.8 263.5L327.7 263.52L328.7 263.55L329.6 263.57L330.6 263.59L331.5 263.62L332.4 263.64L333.4 263.66L334.3 263.68L335.3 263.71L336.2 263.73L337.2 263.75L338.1 263.77L339.1 263.79L340 263.81L341 263.83L341.9 263.84L342.9 263.86" stroke="#000" stroke-width="1.7"/>
<path d="M35.41 263.86L36.4 263.84L37.3 263.82L38.3 263.81L39.2 263.79L40.2 263.77L41.1 263.75L42.1 263.73L43 263.7L44 263.68L44.9 263.66L45.9 263.64L46.8 263.62L47.7 263.59L48.7 263.57L49.6 263.55L50.6 263.52L51.5 263.5L52.5 263.47L53.4 263.44L54.4 263.42L55.3 263.39L56.3 263.36L57.2 263.34L58.2 263.31L59.1 263.28L60.1 263.25L61 263.22L62 263.18L62.9 263.15L63.9 263.12L64.8 263.09L65.8 263.05L66.7 263.02L67.7 262.98L68.6 262.94L69.6 262.91L70.5 262.87L71.5 262.83L72.4 262.79L73.4 262.75L74.3 262.7L75.3 262.66L76.2 262.62L77.2 262.57L78.1 262.52L79.1 262.48L80 262.43L81 262.38L81.9 262.33L82.9 262.27L83.8 262.22L84.8 262.16L85.7 262.11L86.7 262.05L87.6 261.99L88.6 261.92L89.5 261.86L90.5 261.8L91.4 261.73L92.4 261.66L93.3 261.59L94.3 261.52L95.2 261.44L96.1 261.36L97.1 261.28L98 261.2L99 261.12L99.9 261.03L100.9 260.94L101.8 260.85L102.8 260.75L103.7 260.65L104.7 260.55L105.6 260.45L106.6 260.34L107.5 260.23L108.5 260.11L109.4 259.99L110.4 259.87L111.3 259.74L112.3 259.61L113.2 259.47L114.2 259.33L115.1 259.19L116.1 259.04L117 258.88L118 258.72L118.9 258.55L119.9 258.37L120.8 258.19L121.8 258L122.7 257.8L123.7 257.6L124.6 257.39L125.6 257.17L126.5 256.94L127.5 256.7L128.4 256.45L129.4 256.19L130.3 255.92L131.3 255.63L132.2 255.34L133.2 255.03L134.1 254.71L135.1 254.37L136 254.02L137 253.65L137.9 253.26L138.9 252.86L139.8 252.43L140.8 251.99L141.7 251.52L142.6 251.03L143.6 250.51L144.5 249.96L145.5 249.39L146.4 248.79L147.4 248.15L148.3 247.48L149.3 246.77L150.2 246.02L151.2 245.23L152.1 244.4L153.1 243.51L154 242.58L155 241.58L155.9 240.53L156.9 239.42L157.8 238.24L158.8 236.98L159.7 235.65L160.7 234.23L161.6 232.73L162.6 231.13L163.5 229.44L164.5 227.64L165.4 225.73L166.4 223.72L167.3 221.58L168.3 219.32L169.2 216.94L170.2 214.43L171.1 211.81L172.1 209.06L173 206.2L174 203.24L174.9 200.19L175.9 197.07L176.8 193.91L177.8 190.73L178.7 187.57L179.7 184.47L180.6 181.48L181.6 178.64L182.5 176L183.5 173.63L184.4 171.55L185.4 169.84L186.3 168.51L187.3 167.61L188.2 167.16L189.2 167.16L190.1 167.61L191 168.5L192 169.8L192.9 171.49L193.9 173.51L194.8 175.83L195.8 178.39L196.7 181.14L197.7 184.03L198.6 187.03L199.6 190.09L200.5 193.16L201.5 196.23L202.4 199.26L203.4 202.23L204.3 205.12L205.3 207.91L206.2 210.61L207.2 213.2L208.1 215.68L209.1 218.04L210 220.29L211 222.43L211.9 224.46L212.9 226.38L213.8 228.2L214.8 229.92L215.7 231.55L216.7 233.08L217.6 234.53L218.6 235.9L219.5 237.2L220.5 238.42L221.4 239.57L222.4 240.66L223.3 241.69L224.3 242.67L225.2 243.59L226.2 244.46L227.1 245.28L228.1 246.07L229 246.81L230 247.51L230.9 248.17L231.9 248.81L232.8 249.41L233.8 249.98L234.7 250.52L235.7 251.03L236.6 251.52L237.5 251.99L238.5 252.44L239.4 252.86L240.4 253.26L241.3 253.65L242.3 254.02L243.2 254.37L244.2 254.71L245.1 255.03L246.1 255.34L247 255.63L248 255.92L248.9 256.19L249.9 256.45L250.8 256.7L251.8 256.94L252.7 257.17L253.7 257.39L254.6 257.6L255.6 257.8L256.5 258L257.5 258.19L258.4 258.37L259.4 258.55L260.3 258.72L261.3 258.88L262.2 259.04L263.2 259.19L264.1 259.33L265.1 259.47L266 259.61L267 259.74L267.9 259.87L268.9 259.99L269.8 260.11L270.8 260.23L271.7 260.34L272.7 260.45L273.6 260.55L274.6 260.65L275.5 260.75L276.5 260.85L277.4 260.94L278.4 261.03L279.3 261.12L280.3 261.2L281.2 261.28L282.2 261.36L283.1 261.44L284.1 261.52L285 261.59L285.9 261.66L286.9 261.73L287.8 261.8L288.8 261.86L289.7 261.92L290.7 261.99L291.6 262.05L292.6 262.11L293.5 262.16L294.5 262.22L295.4 262.27L296.4 262.33L297.3 262.38L298.3 262.43L299.2 262.48L300.2 262.52L301.1 262.57L302.1 262.62L303 262.66L304 262.7L304.9 262.75L305.9 262.79L306.8 262.83L307.8 262.87L308.7 262.91L309.7 262.94L310.6 262.98L311.6 263.02L312.5 263.05L313.5 263.09L314.4 263.12L315.4 263.15L316.3 263.18L317.3 263.22L318.2 263.25L319.2 263.28L320.1 263.31L321.1 263.34L322 263.36L323 263.39L323.9 263.42L324.9 263.44L325.8 263.47L326.8 263.5L327.7 263.52L328.7 263.55L329.6 263.57L330.6 263.59L331.5 263.62L332.4 263.64L333.4 263.66L334.3 263.68L335.3 263.7L336.2 263.73L337.2 263.75L338.1 263.77L339.1 263.79L340 263.81L341 263.82L341.9 263.84L342.9 263.86" stroke="#1e90ff" stroke-width="1.5"/>
<path d="M35.41 263.86L36.4 263.84L37.3 263.82L38.3 263.8L39.2 263.78L40.2 263.76L41.1 263.74L42.1 263.72L43 263.7L44 263.68L44.9 263.66L45.9 263.64L46.8 263.61L47.7 263.59L48.7 263.57L49.6 263.54L50.6 263.52L51.5 263.49L52.5 263.47L53.4 263.44L54.4 263.41L55.3 263.39L56.3 263.36L57.2 263.33L58.2 263.3L59.1 263.27L60.1 263.24L61 263.21L62 263.18L62.9 263.15L63.9 263.11L64.8 263.08L65.8 263.05L66.7 263.01L67.7 262.97L68.6 262.94L69.6 262.9L70.5 262.86L71.5 262.82L72.4 262.78L73.4 262.74L74.3 262.7L75.3 262.65L76.2 262.61L77.2 262.56L78.1 262.52L79.1 262.47L80 262.42L81 262.37L81.9 262.32L82.9 262.26L83.8 262.21L84.8 262.15L85.7 262.1L86.7 262.04L87.6 261.98L88.6 261.91L89.5 261.85L90.5 261.78L91.4 261.72L92.4 261.65L93.3 261.58L94.3 261.5L95.2 261.43L96.1 261.35L97.1 261.27L98 261.19L99 261.1L99.9 261.01L100.9 260.92L101.8 260.83L102.8 260.73L103.7 260.63L104.7 260.53L105.6 260.43L106.6 260.32L107.5 260.2L108.5 260.09L109.4 259.97L110.4 259.84L111.3 259.71L112.3 259.58L113.2 259.44L114.2 259.3L115.1 259.15L116.1 259L117 258.84L118 258.68L118.9 258.51L119.9 258.33L120.8 258.14L121.8 257.95L122.7 257.75L123.7 257.55L124.6 257.33L125.6 257.11L126.5 256.87L127.5 256.63L128.4 256.38L129.4 256.11L130.3 255.84L131.3 255.55L132.2 255.25L133.2 254.94L134.1 254.61L135.1 254.27L136 253.91L137 253.53L137.9 253.14L138.9 252.73L139.8 252.29L140.8 251.84L141.7 251.36L142.6 250.86L143.6 250.33L144.5 249.77L145.5 249.19L146.4 248.57L147.4 247.92L148.3 247.23L149.3 246.5L150.2 245.74L151.2 244.92L152.1 244.06L153.1 243.16L154 242.19L155 241.17L155.9 240.09L156.9 238.94L157.8 237.72L158.8 236.42L159.7 235.05L160.7 233.59L161.6 232.04L162.6 230.39L163.5 228.65L164.5 226.8L165.4 224.84L166.4 222.77L167.3 220.58L168.3 218.28L169.2 215.87L170.2 213.34L171.1 210.7L172.1 207.96L173 205.13L174 202.22L174.9 199.25L175.9 196.25L176.8 193.24L177.8 190.26L178.7 187.33L179.7 184.49L180.6 181.8L181.6 179.28L182.5 176.98L183.5 174.95L184.4 173.21L185.4 171.81L186.3 170.77L187.3 170.1L188.2 169.83L189.2 169.94L190.1 170.45L191 171.32L192 172.55L192.9 174.11L193.9 175.95L194.8 178.05L195.8 180.37L196.7 182.86L197.7 185.5L198.6 188.24L199.6 191.04L200.5 193.89L201.5 196.74L202.4 199.58L203.4 202.38L204.3 205.12L205.3 207.8L206.2 210.4L207.2 212.91L208.1 215.32L209.1 217.64L210 219.86L211 221.98L211.9 224L212.9 225.92L213.8 227.75L214.8 229.48L215.7 231.13L216.7 232.69L217.6 234.17L218.6 235.57L219.5 236.91L220.5 238.17L221.4 239.37L222.4 240.51L223.3 241.59L224.3 242.62L225.2 243.6L226.2 244.53L227.1 245.41L228.1 246.25L229 247.06L230 247.82L230.9 248.55L231.9 249.24L232.8 249.89L233.8 250.51L234.7 251.1L235.7 251.66L236.6 252.19L237.5 252.69L238.5 253.16L239.4 253.6L240.4 254.02L241.3 254.41L242.3 254.77L243.2 255.11L244.2 255.43L245.1 255.73L246.1 256.01L247 256.27L248 256.52L248.9 256.75L249.9 256.97L250.8 257.18L251.8 257.37L252.7 257.56L253.7 257.74L254.6 257.91L255.6 258.07L256.5 258.23L257.5 258.39L258.4 258.54L259.4 258.69L260.3 258.83L261.3 258.97L262.2 259.11L263.2 259.24L264.1 259.38L265.1 259.51L266 259.63L267 259.76L267.9 259.88L268.9 259.99L269.8 260.11L270.8 260.22L271.7 260.33L272.7 260.44L273.6 260.54L274.6 260.64L275.5 260.74L276.5 260.83L277.4 260.92L278.4 261.01L279.3 261.1L280.3 261.19L281.2 261.27L282.2 261.35L283.1 261.43L284.1 261.5L285 261.58L285.9 261.65L286.9 261.72L287.8 261.78L288.8 261.85L289.7 261.91L290.7 261.98L291.6 262.04L292.6 262.1L293.5 262.15L294.5 262.21L295.4 262.26L296.4 262.32L297.3 262.37L298.3 262.42L299.2 262.47L300.2 262.52L301.1 262.56L302.1 262.61L303 262.65L304 262.7L304.9 262.74L305.9 262.78L306.8 262.82L307.8 262.86L308.7 262.9L309.7 262.94L310.6 262.97L311.6 263.01L312.5 263.05L313.5 263.08L314.4 263.11L315.4 263.15L316.3 263.18L317.3 263.21L318.2 263.24L319.2 263.27L320.1 263.3L321.1 263.33L322 263.36L323 263.39L323.9 263.41L324.9 263.44L325.8 263.47L326.8 263.49L327.7 263.52L328.7 263.54L329.6 263.57L330.6 263.59L331.5 263.61L332.4 263.64L333.4 263.66L334.3 263.68L335.3 263.7L336.2 263.72L337.2 263.74L338.1 263.76L339.1 263.78L340 263.8L341 263.82L341.9 263.84L342.9 263.86" stroke="#ff0000" stroke-width="2.3"/>
</g>
<circle cx="46.23" cy="278.21" r="2.9" fill="#000"/>
<circle cx="62.17" cy="278.21" r="2.9" fill="#000"/>
<circle cx="85.71" cy="278.21" r="2.9" fill="#000"/>
<circle cx="105.26" cy="278.21" r="2.9" fill="#000"/>
<circle cx="121.96" cy="278.21" r="2.9" fill="#000"/>
<circle cx="143.03" cy="278.21" r="2.9" fill="#000"/>
<circle cx="159.92" cy="278.21" r="2.9" fill="#000"/>
<circle cx="178.52" cy="278.21" r="2.9" fill="#000"/>
<circle cx="198.45" cy="278.21" r="2.9" fill="#000"/>
<circle cx="217.43" cy="278.21" r="2.9" fill="#000"/>
<circle cx="238.12" cy="278.21" r="2.9" fill="#000"/>
<circle cx="252.35" cy="278.21" r="2.9" fill="#000"/>
<circle cx="275.89" cy="278.21" r="2.9" fill="#000"/>
<circle cx="296.01" cy="278.21" r="2.9" fill="#000"/>
<circle cx="312.33" cy="278.21" r="2.9" fill="#000"/>
<circle cx="331.31" cy="278.21" r="2.9" fill="#000"/>
<path d="M189.15 159.3V284.07" stroke="#2a2a2a" stroke-width="1.4" stroke-dasharray="3.25 1.0" fill="none"/>
<rect x="37.55" y="159.3" width="303.75" height="124.77" fill="none" stroke="#b0b0b0" stroke-width="0.9"/>
<g font-size="12.9" text-anchor="middle">
<text transform="translate(36.51 295.07) scale(0.945 1)">-80</text>
<text transform="translate(74.47 295.07) scale(0.945 1)">-60</text>
<text transform="translate(112.43 295.07) scale(0.945 1)">-40</text>
<text transform="translate(150.39 295.07) scale(0.945 1)">-20</text>
<text transform="translate(189.05 295.07) scale(0.945 1)">0</text>
<text transform="translate(227.01 295.07) scale(0.945 1)">20</text>
<text transform="translate(264.97 295.07) scale(0.945 1)">40</text>
<text transform="translate(302.93 295.07) scale(0.945 1)">60</text>
<text transform="translate(340.89 295.07) scale(0.945 1)">80</text>
</g>
<g font-size="12.9" text-anchor="end">
<text transform="translate(35.85 276.35) scale(0.945 1)">0</text>
<text transform="translate(35.85 245.16) scale(0.945 1)">25</text>
<text transform="translate(35.85 213.97) scale(0.945 1)">50</text>
<text transform="translate(35.85 182.77) scale(0.945 1)">75</text>
</g>
<text x="46.8" y="184.2" font-size="18.9">D = 10 km</text>
<text transform="translate(17.8 221.99) rotate(-90)" text-anchor="middle" font-size="12.8">Strain rate [nano/yr]</text>
</g>
<g>
<path d="M411.35 284.07v-5.8M411.35 159.3v5.8M449.35 284.07v-5.8M449.35 159.3v5.8M487.35 284.07v-5.8M487.35 159.3v5.8M525.35 284.07v-5.8M525.35 159.3v5.8M563.35 284.07v-5.8M563.35 159.3v5.8M601.35 284.07v-5.8M601.35 159.3v5.8M639.35 284.07v-5.8M639.35 159.3v5.8M373.5 271.6h5.8M677.6 271.6h-5.8M373.5 240.41h5.8M677.6 240.41h-5.8M373.5 209.22h5.8M677.6 209.22h-5.8M373.5 178.02h5.8M677.6 178.02h-5.8" stroke="#b6b6b6" stroke-width="0.9" fill="none"/>
<g clip-path="url(#c11)" fill="none" stroke-linejoin="round">
<path d="M371.45 263.86L372.4 263.84L373.4 263.83L374.3 263.81L375.2 263.79L376.2 263.77L377.2 263.75L378.1 263.73L379.1 263.71L380 263.68L381 263.66L381.9 263.64L382.9 263.62L383.8 263.59L384.8 263.57L385.7 263.55L386.7 263.52L387.6 263.5L388.6 263.47L389.5 263.45L390.5 263.42L391.4 263.39L392.4 263.37L393.3 263.34L394.2 263.31L395.2 263.28L396.2 263.25L397.1 263.22L398.1 263.19L399 263.15L400 263.12L400.9 263.09L401.9 263.05L402.8 263.02L403.8 262.98L404.7 262.95L405.7 262.91L406.6 262.87L407.6 262.83L408.5 262.79L409.5 262.75L410.4 262.71L411.4 262.66L412.3 262.62L413.2 262.57L414.2 262.53L415.2 262.48L416.1 262.43L417.1 262.38L418 262.33L419 262.28L419.9 262.22L420.9 262.17L421.8 262.11L422.8 262.05L423.7 261.99L424.7 261.93L425.6 261.87L426.6 261.8L427.5 261.73L428.5 261.67L429.4 261.6L430.4 261.52L431.3 261.45L432.2 261.37L433.2 261.29L434.2 261.21L435.1 261.13L436.1 261.04L437 260.95L438 260.86L438.9 260.76L439.9 260.66L440.8 260.56L441.8 260.46L442.7 260.35L443.7 260.24L444.6 260.13L445.6 260.01L446.5 259.88L447.5 259.76L448.4 259.63L449.4 259.49L450.3 259.35L451.2 259.2L452.2 259.05L453.2 258.9L454.1 258.73L455.1 258.57L456 258.39L457 258.21L457.9 258.02L458.9 257.83L459.8 257.63L460.8 257.41L461.7 257.19L462.7 256.97L463.6 256.73L464.6 256.48L465.5 256.22L466.5 255.95L467.4 255.67L468.4 255.38L469.3 255.07L470.2 254.75L471.2 254.42L472.2 254.07L473.1 253.7L474.1 253.32L475 252.92L476 252.5L476.9 252.06L477.9 251.59L478.8 251.11L479.8 250.6L480.7 250.06L481.7 249.49L482.6 248.9L483.6 248.27L484.5 247.61L485.5 246.91L486.4 246.18L487.4 245.4L488.3 244.58L489.2 243.71L490.2 242.79L491.2 241.82L492.1 240.79L493.1 239.7L494 238.55L495 237.32L495.9 236.03L496.9 234.65L497.8 233.19L498.8 231.64L499.7 230L500.7 228.26L501.6 226.41L502.6 224.45L503.5 222.38L504.5 220.2L505.4 217.89L506.4 215.45L507.3 212.9L508.2 210.21L509.2 207.41L510.2 204.5L511.1 201.48L512.1 198.37L513 195.19L514 191.97L514.9 188.73L515.9 185.51L516.8 182.35L517.8 179.31L518.7 176.44L519.6 173.79L520.6 171.42L521.6 169.38L522.5 167.74L523.5 166.53L524.4 165.79L525.4 165.55L526.3 165.79L527.2 166.53L528.2 167.74L529.1 169.38L530.1 171.42L531.1 173.79L532 176.44L533 179.31L533.9 182.35L534.9 185.51L535.8 188.73L536.8 191.97L537.7 195.19L538.6 198.37L539.6 201.48L540.6 204.5L541.5 207.41L542.5 210.21L543.4 212.9L544.4 215.45L545.3 217.89L546.2 220.2L547.2 222.38L548.1 224.45L549.1 226.41L550.1 228.26L551 230L552 231.64L552.9 233.19L553.9 234.65L554.8 236.03L555.8 237.32L556.7 238.55L557.6 239.7L558.6 240.79L559.6 241.82L560.5 242.79L561.5 243.71L562.4 244.58L563.4 245.4L564.3 246.18L565.2 246.91L566.2 247.61L567.1 248.27L568.1 248.9L569.1 249.49L570 250.06L571 250.6L571.9 251.11L572.9 251.59L573.8 252.06L574.8 252.5L575.7 252.92L576.6 253.32L577.6 253.7L578.6 254.07L579.5 254.42L580.5 254.75L581.4 255.07L582.4 255.38L583.3 255.67L584.2 255.95L585.2 256.22L586.1 256.48L587.1 256.73L588.1 256.97L589 257.19L590 257.41L590.9 257.63L591.9 257.83L592.8 258.02L593.8 258.21L594.7 258.39L595.6 258.57L596.6 258.73L597.6 258.9L598.5 259.05L599.5 259.2L600.4 259.35L601.4 259.49L602.3 259.63L603.2 259.76L604.2 259.88L605.1 260.01L606.1 260.13L607.1 260.24L608 260.35L609 260.46L609.9 260.56L610.9 260.66L611.8 260.76L612.8 260.86L613.7 260.95L614.6 261.04L615.6 261.13L616.5 261.21L617.5 261.29L618.5 261.37L619.4 261.45L620.4 261.52L621.3 261.6L622.2 261.67L623.2 261.73L624.1 261.8L625.1 261.87L626 261.93L627 261.99L628 262.05L628.9 262.11L629.9 262.17L630.8 262.22L631.8 262.28L632.7 262.33L633.6 262.38L634.6 262.43L635.5 262.48L636.5 262.53L637.5 262.57L638.4 262.62L639.4 262.66L640.3 262.71L641.2 262.75L642.2 262.79L643.1 262.83L644.1 262.87L645 262.91L646 262.95L647 262.98L647.9 263.02L648.9 263.05L649.8 263.09L650.8 263.12L651.7 263.15L652.6 263.19L653.6 263.22L654.5 263.25L655.5 263.28L656.5 263.31L657.4 263.34L658.4 263.37L659.3 263.39L660.2 263.42L661.2 263.45L662.1 263.47L663.1 263.5L664 263.52L665 263.55L666 263.57L666.9 263.59L667.9 263.62L668.8 263.64L669.8 263.66L670.7 263.68L671.6 263.71L672.6 263.73L673.5 263.75L674.5 263.77L675.5 263.79L676.4 263.81L677.4 263.83L678.3 263.84L679.2 263.86" stroke="#000" stroke-width="1.7"/>
<path d="M371.45 264.48L372.4 264.48L373.4 264.47L374.3 264.46L375.2 264.45L376.2 264.44L377.2 264.43L378.1 264.42L379.1 264.41L380 264.39L381 264.38L381.9 264.36L382.9 264.35L383.8 264.33L384.8 264.32L385.7 264.3L386.7 264.28L387.6 264.26L388.6 264.24L389.5 264.22L390.5 264.2L391.4 264.18L392.4 264.16L393.3 264.14L394.2 264.12L395.2 264.1L396.2 264.08L397.1 264.06L398.1 264.03L399 264.01L400 263.99L400.9 263.96L401.9 263.94L402.8 263.91L403.8 263.89L404.7 263.86L405.7 263.83L406.6 263.8L407.6 263.77L408.5 263.73L409.5 263.7L410.4 263.67L411.4 263.63L412.3 263.6L413.2 263.56L414.2 263.52L415.2 263.48L416.1 263.44L417.1 263.4L418 263.36L419 263.32L419.9 263.28L420.9 263.24L421.8 263.2L422.8 263.16L423.7 263.11L424.7 263.07L425.6 263.03L426.6 262.98L427.5 262.94L428.5 262.89L429.4 262.84L430.4 262.79L431.3 262.73L432.2 262.67L433.2 262.61L434.2 262.54L435.1 262.47L436.1 262.4L437 262.31L438 262.22L438.9 262.11L439.9 261.99L440.8 261.85L441.8 261.7L442.7 261.53L443.7 261.34L444.6 261.14L445.6 260.93L446.5 260.69L447.5 260.44L448.4 260.15L449.4 259.84L450.3 259.49L451.2 259.12L452.2 258.73L453.2 258.33L454.1 257.92L455.1 257.51L456 257.1L457 256.68L457.9 256.27L458.9 255.84L459.8 255.4L460.8 254.94L461.7 254.45L462.7 253.95L463.6 253.41L464.6 252.85L465.5 252.26L466.5 251.65L467.4 251.01L468.4 250.35L469.3 249.67L470.2 248.98L471.2 248.26L472.2 247.52L473.1 246.76L474.1 245.98L475 245.18L476 244.37L476.9 243.54L477.9 242.7L478.8 241.85L479.8 240.98L480.7 240.1L481.7 239.21L482.6 238.31L483.6 237.42L484.5 236.52L485.5 235.63L486.4 234.75L487.4 233.87L488.3 233L489.2 232.12L490.2 231.22L491.2 230.32L492.1 229.38L493.1 228.43L494 227.44L495 226.43L495.9 225.4L496.9 224.34L497.8 223.26L498.8 222.17L499.7 221.04L500.7 219.89L501.6 218.72L502.6 217.51L503.5 216.29L504.5 215.07L505.4 213.86L506.4 212.69L507.3 211.55L508.2 210.46L509.2 209.4L510.2 208.39L511.1 207.42L512.1 206.49L513 205.63L514 204.85L514.9 204.14L515.9 203.52L516.8 202.98L517.8 202.51L518.7 202.1L519.6 201.74L520.6 201.43L521.6 201.17L522.5 200.96L523.5 200.79L524.4 200.69L525.4 200.65L526.3 200.69L527.2 200.79L528.2 200.96L529.1 201.17L530.1 201.43L531.1 201.74L532 202.1L533 202.51L533.9 202.98L534.9 203.52L535.8 204.14L536.8 204.85L537.7 205.63L538.6 206.49L539.6 207.42L540.6 208.39L541.5 209.4L542.5 210.46L543.4 211.55L544.4 212.69L545.3 213.86L546.2 215.07L547.2 216.29L548.1 217.51L549.1 218.72L550.1 219.89L551 221.04L552 222.17L552.9 223.26L553.9 224.34L554.8 225.4L555.8 226.43L556.7 227.44L557.6 228.43L558.6 229.38L559.6 230.32L560.5 231.22L561.5 232.12L562.4 233L563.4 233.87L564.3 234.75L565.2 235.63L566.2 236.52L567.1 237.42L568.1 238.31L569.1 239.21L570 240.1L571 240.98L571.9 241.85L572.9 242.7L573.8 243.54L574.8 244.37L575.7 245.18L576.6 245.98L577.6 246.76L578.6 247.52L579.5 248.26L580.5 248.98L581.4 249.67L582.4 250.35L583.3 251.01L584.2 251.65L585.2 252.26L586.1 252.85L587.1 253.41L588.1 253.95L589 254.45L590 254.94L590.9 255.4L591.9 255.84L592.8 256.27L593.8 256.68L594.7 257.1L595.6 257.51L596.6 257.92L597.6 258.33L598.5 258.73L599.5 259.12L600.4 259.49L601.4 259.84L602.3 260.15L603.2 260.44L604.2 260.69L605.1 260.93L606.1 261.14L607.1 261.34L608 261.53L609 261.7L609.9 261.85L610.9 261.99L611.8 262.11L612.8 262.22L613.7 262.31L614.6 262.4L615.6 262.47L616.5 262.54L617.5 262.61L618.5 262.67L619.4 262.73L620.4 262.79L621.3 262.84L622.2 262.89L623.2 262.94L624.1 262.98L625.1 263.03L626 263.07L627 263.11L628 263.16L628.9 263.2L629.9 263.24L630.8 263.28L631.8 263.32L632.7 263.36L633.6 263.4L634.6 263.44L635.5 263.48L636.5 263.52L637.5 263.56L638.4 263.6L639.4 263.63L640.3 263.67L641.2 263.7L642.2 263.73L643.1 263.77L644.1 263.8L645 263.83L646 263.86L647 263.89L647.9 263.91L648.9 263.94L649.8 263.96L650.8 263.99L651.7 264.01L652.6 264.03L653.6 264.06L654.5 264.08L655.5 264.1L656.5 264.12L657.4 264.14L658.4 264.16L659.3 264.18L660.2 264.2L661.2 264.22L662.1 264.24L663.1 264.26L664 264.28L665 264.3L666 264.32L666.9 264.33L667.9 264.35L668.8 264.36L669.8 264.38L670.7 264.39L671.6 264.41L672.6 264.42L673.5 264.43L674.5 264.44L675.5 264.45L676.4 264.46L677.4 264.47L678.3 264.48L679.2 264.48" stroke="#1e90ff" stroke-width="1.5"/>
<path d="M371.45 264.11L372.4 264.11L373.4 264.1L374.3 264.1L375.2 264.09L376.2 264.08L377.2 264.07L378.1 264.06L379.1 264.05L380 264.04L381 264.03L381.9 264.01L382.9 264L383.8 263.98L384.8 263.96L385.7 263.94L386.7 263.93L387.6 263.91L388.6 263.89L389.5 263.87L390.5 263.85L391.4 263.82L392.4 263.8L393.3 263.78L394.2 263.76L395.2 263.73L396.2 263.71L397.1 263.69L398.1 263.66L399 263.64L400 263.61L400.9 263.59L401.9 263.56L402.8 263.53L403.8 263.5L404.7 263.47L405.7 263.44L406.6 263.41L407.6 263.37L408.5 263.34L409.5 263.3L410.4 263.26L411.4 263.22L412.3 263.18L413.2 263.14L414.2 263.09L415.2 263.05L416.1 263L417.1 262.95L418 262.91L419 262.86L419.9 262.81L420.9 262.75L421.8 262.7L422.8 262.65L423.7 262.59L424.7 262.53L425.6 262.47L426.6 262.42L427.5 262.36L428.5 262.29L429.4 262.23L430.4 262.17L431.3 262.11L432.2 262.04L433.2 261.97L434.2 261.91L435.1 261.84L436.1 261.77L437 261.7L438 261.62L438.9 261.54L439.9 261.45L440.8 261.37L441.8 261.27L442.7 261.18L443.7 261.08L444.6 260.97L445.6 260.86L446.5 260.75L447.5 260.64L448.4 260.52L449.4 260.41L450.3 260.28L451.2 260.16L452.2 260.04L453.2 259.91L454.1 259.78L455.1 259.65L456 259.52L457 259.39L457.9 259.26L458.9 259.13L459.8 259L460.8 258.87L461.7 258.74L462.7 258.6L463.6 258.46L464.6 258.32L465.5 258.16L466.5 257.98L467.4 257.79L468.4 257.57L469.3 257.32L470.2 257.02L471.2 256.68L472.2 256.27L473.1 255.81L474.1 255.3L475 254.73L476 254.11L476.9 253.45L477.9 252.74L478.8 251.98L479.8 251.15L480.7 250.24L481.7 249.2L482.6 248.02L483.6 246.7L484.5 245.26L485.5 243.72L486.4 242.1L487.4 240.43L488.3 238.74L489.2 237.04L490.2 235.35L491.2 233.68L492.1 232.02L493.1 230.35L494 228.66L495 226.94L495.9 225.21L496.9 223.46L497.8 221.7L498.8 219.94L499.7 218.17L500.7 216.39L501.6 214.61L502.6 212.8L503.5 210.95L504.5 209.06L505.4 207.12L506.4 205.18L507.3 203.26L508.2 201.38L509.2 199.58L510.2 197.88L511.1 196.33L512.1 194.91L513 193.62L514 192.43L514.9 191.29L515.9 190.2L516.8 189.13L517.8 188.12L518.7 187.16L519.6 186.27L520.6 185.48L521.6 184.8L522.5 184.25L523.5 183.83L524.4 183.58L525.4 183.48L526.3 183.56L527.2 183.79L528.2 184.17L529.1 184.68L530.1 185.31L531.1 186.04L532 186.87L533 187.76L533.9 188.71L534.9 189.71L535.8 190.78L536.8 191.95L537.7 193.27L538.6 194.77L539.6 196.48L540.6 198.36L541.5 200.37L542.5 202.45L543.4 204.56L544.4 206.65L545.3 208.7L546.2 210.69L547.2 212.65L548.1 214.6L549.1 216.56L550.1 218.51L551 220.45L552 222.38L552.9 224.27L553.9 226.13L554.8 227.95L555.8 229.71L556.7 231.42L557.6 233.1L558.6 234.75L559.6 236.39L560.5 238L561.5 239.57L562.4 241.1L563.4 242.57L564.3 243.96L565.2 245.26L566.2 246.45L567.1 247.55L568.1 248.57L569.1 249.51L570 250.41L571 251.28L571.9 252.1L572.9 252.9L573.8 253.64L574.8 254.34L575.7 254.99L576.6 255.58L577.6 256.11L578.6 256.57L579.5 256.97L580.5 257.31L581.4 257.6L582.4 257.85L583.3 258.07L584.2 258.27L585.2 258.46L586.1 258.63L587.1 258.79L588.1 258.94L589 259.08L590 259.22L590.9 259.36L591.9 259.5L592.8 259.63L593.8 259.77L594.7 259.9L595.6 260.03L596.6 260.15L597.6 260.28L598.5 260.39L599.5 260.5L600.4 260.61L601.4 260.71L602.3 260.81L603.2 260.9L604.2 260.99L605.1 261.07L606.1 261.16L607.1 261.24L608 261.32L609 261.4L609.9 261.47L610.9 261.55L611.8 261.63L612.8 261.71L613.7 261.78L614.6 261.86L615.6 261.93L616.5 262L617.5 262.08L618.5 262.15L619.4 262.22L620.4 262.29L621.3 262.36L622.2 262.42L623.2 262.49L624.1 262.55L625.1 262.62L626 262.68L627 262.74L628 262.8L628.9 262.86L629.9 262.92L630.8 262.97L631.8 263.03L632.7 263.08L633.6 263.13L634.6 263.18L635.5 263.23L636.5 263.28L637.5 263.32L638.4 263.36L639.4 263.41L640.3 263.44L641.2 263.48L642.2 263.52L643.1 263.55L644.1 263.59L645 263.62L646 263.64L647 263.67L647.9 263.69L648.9 263.72L649.8 263.74L650.8 263.76L651.7 263.78L652.6 263.8L653.6 263.81L654.5 263.83L655.5 263.85L656.5 263.87L657.4 263.88L658.4 263.9L659.3 263.92L660.2 263.93L661.2 263.95L662.1 263.96L663.1 263.98L664 263.99L665 264.01L666 264.02L666.9 264.03L667.9 264.04L668.8 264.05L669.8 264.06L670.7 264.07L671.6 264.08L672.6 264.09L673.5 264.09L674.5 264.1L675.5 264.1L676.4 264.11L677.4 264.11L678.3 264.11L679.2 264.11" stroke="#ff0000" stroke-width="2.3"/>
</g>
<circle cx="392.54" cy="278.21" r="2.9" fill="#000"/>
<circle cx="430.16" cy="278.21" r="2.9" fill="#000"/>
<circle cx="469.11" cy="278.21" r="2.9" fill="#000"/>
<circle cx="506.54" cy="278.21" r="2.9" fill="#000"/>
<circle cx="543.59" cy="278.21" r="2.9" fill="#000"/>
<circle cx="582.35" cy="278.21" r="2.9" fill="#000"/>
<circle cx="615.98" cy="278.21" r="2.9" fill="#000"/>
<circle cx="662.15" cy="278.21" r="2.9" fill="#000"/>
<path d="M525.35 159.3V284.07" stroke="#000" stroke-width="1.0" stroke-dasharray="4.4 1.7" fill="none"/>
<rect x="373.5" y="159.3" width="304.1" height="124.77" fill="none" stroke="#b0b0b0" stroke-width="0.9"/>
<g font-size="12.9" text-anchor="middle">
<text transform="translate(372.55 295.07) scale(0.945 1)">-80</text>
<text transform="translate(410.55 295.07) scale(0.945 1)">-60</text>
<text transform="translate(448.55 295.07) scale(0.945 1)">-40</text>
<text transform="translate(486.55 295.07) scale(0.945 1)">-20</text>
<text transform="translate(525.25 295.07) scale(0.945 1)">0</text>
<text transform="translate(563.25 295.07) scale(0.945 1)">20</text>
<text transform="translate(601.25 295.07) scale(0.945 1)">40</text>
<text transform="translate(639.25 295.07) scale(0.945 1)">60</text>
<text transform="translate(677.25 295.07) scale(0.945 1)">80</text>
</g>
<g font-size="12.9" text-anchor="end">
<text transform="translate(371.8 276.35) scale(0.945 1)">0</text>
<text transform="translate(371.8 245.16) scale(0.945 1)">25</text>
<text transform="translate(371.8 213.97) scale(0.945 1)">50</text>
<text transform="translate(371.8 182.77) scale(0.945 1)">75</text>
</g>
</g>
<g>
<path d="M75.27 425.13v-5.8M75.27 300.25v5.8M113.23 425.13v-5.8M113.23 300.25v5.8M151.19 425.13v-5.8M151.19 300.25v5.8M189.15 425.13v-5.8M189.15 300.25v5.8M227.11 425.13v-5.8M227.11 300.25v5.8M265.07 425.13v-5.8M265.07 300.25v5.8M303.03 425.13v-5.8M303.03 300.25v5.8M37.55 420.5h5.8M341.3 420.5h-5.8M37.55 395.38h5.8M341.3 395.38h-5.8M37.55 370.26h5.8M341.3 370.26h-5.8M37.55 345.14h5.8M341.3 345.14h-5.8M37.55 320.02h5.8M341.3 320.02h-5.8" stroke="#b6b6b6" stroke-width="0.9" fill="none"/>
<g clip-path="url(#c20)" fill="none" stroke-linejoin="round">
<path d="M35.41 402.4L36.4 402.33L37.3 402.27L38.3 402.18L39.2 402.1L40.2 402.01L41.1 401.93L42.1 401.84L43 401.75L44 401.66L44.9 401.57L45.9 401.48L46.8 401.39L47.7 401.3L48.7 401.2L49.6 401.11L50.6 401.01L51.5 400.91L52.5 400.81L53.4 400.71L54.4 400.61L55.3 400.5L56.3 400.4L57.2 400.29L58.2 400.18L59.1 400.07L60.1 399.95L61 399.84L62 399.72L62.9 399.6L63.9 399.48L64.8 399.36L65.8 399.23L66.7 399.11L67.7 398.98L68.6 398.85L69.6 398.71L70.5 398.57L71.5 398.44L72.4 398.29L73.4 398.15L74.3 398L75.3 397.85L76.2 397.7L77.2 397.54L78.1 397.38L79.1 397.22L80 397.05L81 396.88L81.9 396.7L82.9 396.52L83.8 396.34L84.8 396.15L85.7 395.96L86.7 395.76L87.6 395.56L88.6 395.35L89.5 395.14L90.5 394.93L91.4 394.7L92.4 394.48L93.3 394.25L94.3 394.01L95.2 393.76L96.1 393.51L97.1 393.26L98 392.99L99 392.72L99.9 392.45L100.9 392.16L101.8 391.87L102.8 391.57L103.7 391.26L104.7 390.95L105.6 390.63L106.6 390.29L107.5 389.95L108.5 389.6L109.4 389.24L110.4 388.87L111.3 388.5L112.3 388.11L113.2 387.7L114.2 387.29L115.1 386.87L116.1 386.43L117 385.98L118 385.52L118.9 385.05L119.9 384.56L120.8 384.06L121.8 383.54L122.7 383.01L123.7 382.47L124.6 381.9L125.6 381.32L126.5 380.73L127.5 380.11L128.4 379.48L129.4 378.83L130.3 378.16L131.3 377.47L132.2 376.76L133.2 376.03L134.1 375.27L135.1 374.5L136 373.7L137 372.87L137.9 372.03L138.9 371.16L139.8 370.26L140.8 369.33L141.7 368.38L142.6 367.41L143.6 366.4L144.5 365.37L145.5 364.31L146.4 363.22L147.4 362.1L148.3 360.95L149.3 359.77L150.2 358.56L151.2 357.32L152.1 356.05L153.1 354.75L154 353.42L155 352.06L155.9 350.68L156.9 349.26L157.8 347.83L158.8 346.36L159.7 344.88L160.7 343.37L161.6 341.85L162.6 340.31L163.5 338.75L164.5 337.19L165.4 335.61L166.4 334.04L167.3 332.46L168.3 330.89L169.2 329.33L170.2 327.78L171.1 326.26L172.1 324.76L173 323.29L174 321.86L174.9 320.47L175.9 319.13L176.8 317.85L177.8 316.64L178.7 315.49L179.7 314.42L180.6 313.43L181.6 312.52L182.5 311.71L183.5 311L184.4 310.39L185.4 309.88L186.3 309.48L187.3 309.2L188.2 309.02L189.2 308.97L190.1 309.02L191 309.2L192 309.48L192.9 309.88L193.9 310.39L194.8 311L195.8 311.71L196.7 312.52L197.7 313.43L198.6 314.42L199.6 315.49L200.5 316.64L201.5 317.85L202.4 319.13L203.4 320.47L204.3 321.86L205.3 323.29L206.2 324.76L207.2 326.26L208.1 327.78L209.1 329.33L210 330.89L211 332.46L211.9 334.04L212.9 335.61L213.8 337.19L214.8 338.75L215.7 340.31L216.7 341.85L217.6 343.37L218.6 344.88L219.5 346.36L220.5 347.83L221.4 349.26L222.4 350.68L223.3 352.06L224.3 353.42L225.2 354.75L226.2 356.05L227.1 357.32L228.1 358.56L229 359.77L230 360.95L230.9 362.1L231.9 363.22L232.8 364.31L233.8 365.37L234.7 366.4L235.7 367.41L236.6 368.38L237.5 369.33L238.5 370.26L239.4 371.16L240.4 372.03L241.3 372.87L242.3 373.7L243.2 374.5L244.2 375.27L245.1 376.03L246.1 376.76L247 377.47L248 378.16L248.9 378.83L249.9 379.48L250.8 380.11L251.8 380.73L252.7 381.32L253.7 381.9L254.6 382.47L255.6 383.01L256.5 383.54L257.5 384.06L258.4 384.56L259.4 385.05L260.3 385.52L261.3 385.98L262.2 386.43L263.2 386.87L264.1 387.29L265.1 387.7L266 388.11L267 388.5L267.9 388.87L268.9 389.24L269.8 389.6L270.8 389.95L271.7 390.29L272.7 390.63L273.6 390.95L274.6 391.26L275.5 391.57L276.5 391.87L277.4 392.16L278.4 392.45L279.3 392.72L280.3 392.99L281.2 393.26L282.2 393.51L283.1 393.76L284.1 394.01L285 394.25L285.9 394.48L286.9 394.7L287.8 394.93L288.8 395.14L289.7 395.35L290.7 395.56L291.6 395.76L292.6 395.96L293.5 396.15L294.5 396.34L295.4 396.52L296.4 396.7L297.3 396.88L298.3 397.05L299.2 397.22L300.2 397.38L301.1 397.54L302.1 397.7L303 397.85L304 398L304.9 398.15L305.9 398.29L306.8 398.44L307.8 398.57L308.7 398.71L309.7 398.85L310.6 398.98L311.6 399.11L312.5 399.23L313.5 399.36L314.4 399.48L315.4 399.6L316.3 399.72L317.3 399.84L318.2 399.95L319.2 400.07L320.1 400.18L321.1 400.29L322 400.4L323 400.5L323.9 400.61L324.9 400.71L325.8 400.81L326.8 400.91L327.7 401.01L328.7 401.11L329.6 401.2L330.6 401.3L331.5 401.39L332.4 401.48L333.4 401.57L334.3 401.66L335.3 401.75L336.2 401.84L337.2 401.93L338.1 402.01L339.1 402.1L340 402.18L341 402.27L341.9 402.33L342.9 402.4" stroke="#000" stroke-width="1.7"/>
<path d="M35.41 402.15L36.4 402.08L37.3 402.01L38.3 401.94L39.2 401.87L40.2 401.8L41.1 401.72L42.1 401.65L43 401.57L44 401.49L44.9 401.41L45.9 401.33L46.8 401.25L47.7 401.17L48.7 401.08L49.6 400.99L50.6 400.9L51.5 400.81L52.5 400.72L53.4 400.63L54.4 400.53L55.3 400.43L56.3 400.33L57.2 400.23L58.2 400.13L59.1 400.02L60.1 399.91L61 399.8L62 399.69L62.9 399.58L63.9 399.46L64.8 399.34L65.8 399.22L66.7 399.09L67.7 398.97L68.6 398.84L69.6 398.71L70.5 398.57L71.5 398.43L72.4 398.29L73.4 398.15L74.3 398L75.3 397.85L76.2 397.7L77.2 397.54L78.1 397.38L79.1 397.22L80 397.05L81 396.88L81.9 396.7L82.9 396.52L83.8 396.34L84.8 396.15L85.7 395.96L86.7 395.76L87.6 395.56L88.6 395.35L89.5 395.14L90.5 394.93L91.4 394.7L92.4 394.48L93.3 394.25L94.3 394.01L95.2 393.76L96.1 393.51L97.1 393.26L98 392.99L99 392.72L99.9 392.45L100.9 392.16L101.8 391.87L102.8 391.57L103.7 391.26L104.7 390.95L105.6 390.63L106.6 390.29L107.5 389.95L108.5 389.6L109.4 389.24L110.4 388.87L111.3 388.5L112.3 388.11L113.2 387.7L114.2 387.29L115.1 386.87L116.1 386.43L117 385.98L118 385.52L118.9 385.05L119.9 384.56L120.8 384.06L121.8 383.54L122.7 383.01L123.7 382.47L124.6 381.9L125.6 381.32L126.5 380.73L127.5 380.11L128.4 379.48L129.4 378.83L130.3 378.16L131.3 377.47L132.2 376.76L133.2 376.03L134.1 375.27L135.1 374.5L136 373.7L137 372.87L137.9 372.03L138.9 371.16L139.8 370.26L140.8 369.33L141.7 368.38L142.6 367.41L143.6 366.4L144.5 365.37L145.5 364.31L146.4 363.22L147.4 362.1L148.3 360.95L149.3 359.77L150.2 358.56L151.2 357.32L152.1 356.05L153.1 354.75L154 353.42L155 352.06L155.9 350.68L156.9 349.26L157.8 347.83L158.8 346.36L159.7 344.88L160.7 343.37L161.6 341.85L162.6 340.31L163.5 338.75L164.5 337.19L165.4 335.61L166.4 334.04L167.3 332.46L168.3 330.89L169.2 329.33L170.2 327.78L171.1 326.26L172.1 324.76L173 323.29L174 321.86L174.9 320.47L175.9 319.13L176.8 317.85L177.8 316.64L178.7 315.49L179.7 314.42L180.6 313.43L181.6 312.52L182.5 311.71L183.5 311L184.4 310.39L185.4 309.88L186.3 309.48L187.3 309.2L188.2 309.02L189.2 308.97L190.1 309.02L191 309.2L192 309.48L192.9 309.88L193.9 310.39L194.8 311L195.8 311.71L196.7 312.52L197.7 313.43L198.6 314.42L199.6 315.49L200.5 316.64L201.5 317.85L202.4 319.13L203.4 320.47L204.3 321.86L205.3 323.29L206.2 324.76L207.2 326.26L208.1 327.78L209.1 329.33L210 330.89L211 332.46L211.9 334.04L212.9 335.61L213.8 337.19L214.8 338.75L215.7 340.31L216.7 341.85L217.6 343.37L218.6 344.88L219.5 346.36L220.5 347.83L221.4 349.26L222.4 350.68L223.3 352.06L224.3 353.42L225.2 354.75L226.2 356.05L227.1 357.32L228.1 358.56L229 359.77L230 360.95L230.9 362.1L231.9 363.22L232.8 364.31L233.8 365.37L234.7 366.4L235.7 367.41L236.6 368.38L237.5 369.33L238.5 370.26L239.4 371.16L240.4 372.03L241.3 372.87L242.3 373.7L243.2 374.5L244.2 375.27L245.1 376.03L246.1 376.76L247 377.47L248 378.16L248.9 378.83L249.9 379.48L250.8 380.11L251.8 380.73L252.7 381.32L253.7 381.9L254.6 382.47L255.6 383.01L256.5 383.54L257.5 384.06L258.4 384.56L259.4 385.05L260.3 385.52L261.3 385.98L262.2 386.43L263.2 386.87L264.1 387.29L265.1 387.7L266 388.11L267 388.5L267.9 388.87L268.9 389.24L269.8 389.6L270.8 389.95L271.7 390.29L272.7 390.63L273.6 390.95L274.6 391.26L275.5 391.57L276.5 391.87L277.4 392.16L278.4 392.45L279.3 392.72L280.3 392.99L281.2 393.26L282.2 393.51L283.1 393.76L284.1 394.01L285 394.25L285.9 394.48L286.9 394.7L287.8 394.93L288.8 395.14L289.7 395.35L290.7 395.56L291.6 395.76L292.6 395.96L293.5 396.15L294.5 396.34L295.4 396.52L296.4 396.7L297.3 396.88L298.3 397.05L299.2 397.22L300.2 397.38L301.1 397.54L302.1 397.7L303 397.85L304 398L304.9 398.15L305.9 398.29L306.8 398.43L307.8 398.57L308.7 398.71L309.7 398.84L310.6 398.97L311.6 399.09L312.5 399.22L313.5 399.34L314.4 399.46L315.4 399.58L316.3 399.69L317.3 399.8L318.2 399.91L319.2 400.02L320.1 400.13L321.1 400.23L322 400.33L323 400.43L323.9 400.53L324.9 400.63L325.8 400.72L326.8 400.81L327.7 400.9L328.7 400.99L329.6 401.08L330.6 401.17L331.5 401.25L332.4 401.33L333.4 401.41L334.3 401.49L335.3 401.57L336.2 401.65L337.2 401.72L338.1 401.8L339.1 401.87L340 401.94L341 402.01L341.9 402.08L342.9 402.15" stroke="#1e90ff" stroke-width="1.5"/>
<path d="M35.41 401.15L36.4 401.08L37.3 401.01L38.3 400.99L39.2 400.97L40.2 400.94L41.1 400.91L42.1 400.88L43 400.85L44 400.81L44.9 400.77L45.9 400.73L46.8 400.68L47.7 400.64L48.7 400.59L49.6 400.53L50.6 400.48L51.5 400.42L52.5 400.36L53.4 400.29L54.4 400.23L55.3 400.16L56.3 400.08L57.2 400L58.2 399.92L59.1 399.84L60.1 399.75L61 399.66L62 399.57L62.9 399.47L63.9 399.37L64.8 399.26L65.8 399.16L66.7 399.04L67.7 398.93L68.6 398.81L69.6 398.68L70.5 398.55L71.5 398.42L72.4 398.29L73.4 398.15L74.3 398L75.3 397.85L76.2 397.7L77.2 397.54L78.1 397.38L79.1 397.22L80 397.05L81 396.88L81.9 396.7L82.9 396.52L83.8 396.34L84.8 396.15L85.7 395.96L86.7 395.76L87.6 395.56L88.6 395.35L89.5 395.14L90.5 394.93L91.4 394.7L92.4 394.48L93.3 394.25L94.3 394.01L95.2 393.76L96.1 393.51L97.1 393.26L98 392.99L99 392.72L99.9 392.45L100.9 392.16L101.8 391.87L102.8 391.57L103.7 391.26L104.7 390.95L105.6 390.63L106.6 390.29L107.5 389.95L108.5 389.6L109.4 389.24L110.4 388.87L111.3 388.5L112.3 388.11L113.2 387.7L114.2 387.29L115.1 386.87L116.1 386.43L117 385.98L118 385.52L118.9 385.05L119.9 384.56L120.8 384.06L121.8 383.54L122.7 383.01L123.7 382.47L124.6 381.9L125.6 381.32L126.5 380.73L127.5 380.11L128.4 379.48L129.4 378.83L130.3 378.16L131.3 377.47L132.2 376.76L133.2 376.03L134.1 375.27L135.1 374.5L136 373.7L137 372.87L137.9 372.03L138.9 371.16L139.8 370.26L140.8 369.33L141.7 368.38L142.6 367.41L143.6 366.4L144.5 365.37L145.5 364.31L146.4 363.22L147.4 362.1L148.3 360.95L149.3 359.77L150.2 358.56L151.2 357.32L152.1 356.05L153.1 354.75L154 353.42L155 352.06L155.9 350.68L156.9 349.26L157.8 347.83L158.8 346.36L159.7 344.88L160.7 343.37L161.6 341.85L162.6 340.31L163.5 338.75L164.5 337.19L165.4 335.61L166.4 334.04L167.3 332.46L168.3 330.89L169.2 329.33L170.2 327.78L171.1 326.26L172.1 324.76L173 323.29L174 321.86L174.9 320.47L175.9 319.13L176.8 317.85L177.8 316.64L178.7 315.49L179.7 314.42L180.6 313.43L181.6 312.52L182.5 311.71L183.5 311L184.4 310.39L185.4 309.88L186.3 309.48L187.3 309.2L188.2 309.02L189.2 308.97L190.1 309.02L191 309.2L192 309.48L192.9 309.88L193.9 310.39L194.8 311L195.8 311.71L196.7 312.52L197.7 313.43L198.6 314.42L199.6 315.49L200.5 316.64L201.5 317.85L202.4 319.13L203.4 320.47L204.3 321.86L205.3 323.29L206.2 324.76L207.2 326.26L208.1 327.78L209.1 329.33L210 330.89L211 332.46L211.9 334.04L212.9 335.61L213.8 337.19L214.8 338.75L215.7 340.31L216.7 341.85L217.6 343.37L218.6 344.88L219.5 346.36L220.5 347.83L221.4 349.26L222.4 350.68L223.3 352.06L224.3 353.42L225.2 354.75L226.2 356.05L227.1 357.32L228.1 358.56L229 359.77L230 360.95L230.9 362.1L231.9 363.22L232.8 364.31L233.8 365.37L234.7 366.4L235.7 367.41L236.6 368.38L237.5 369.33L238.5 370.26L239.4 371.16L240.4 372.03L241.3 372.87L242.3 373.7L243.2 374.5L244.2 375.27L245.1 376.03L246.1 376.76L247 377.47L248 378.16L248.9 378.83L249.9 379.48L250.8 380.11L251.8 380.73L252.7 381.32L253.7 381.9L254.6 382.47L255.6 383.01L256.5 383.54L257.5 384.06L258.4 384.56L259.4 385.05L260.3 385.52L261.3 385.98L262.2 386.43L263.2 386.87L264.1 387.29L265.1 387.7L266 388.11L267 388.5L267.9 388.87L268.9 389.24L269.8 389.6L270.8 389.95L271.7 390.29L272.7 390.63L273.6 390.95L274.6 391.26L275.5 391.57L276.5 391.87L277.4 392.16L278.4 392.45L279.3 392.72L280.3 392.99L281.2 393.26L282.2 393.51L283.1 393.76L284.1 394.01L285 394.25L285.9 394.48L286.9 394.7L287.8 394.93L288.8 395.14L289.7 395.35L290.7 395.56L291.6 395.76L292.6 395.96L293.5 396.15L294.5 396.34L295.4 396.52L296.4 396.7L297.3 396.88L298.3 397.05L299.2 397.22L300.2 397.38L301.1 397.54L302.1 397.7L303 397.85L304 398L304.9 398.15L305.9 398.29L306.8 398.42L307.8 398.55L308.7 398.68L309.7 398.81L310.6 398.93L311.6 399.04L312.5 399.16L313.5 399.26L314.4 399.37L315.4 399.47L316.3 399.57L317.3 399.66L318.2 399.75L319.2 399.84L320.1 399.92L321.1 400L322 400.08L323 400.16L323.9 400.23L324.9 400.29L325.8 400.36L326.8 400.42L327.7 400.48L328.7 400.53L329.6 400.59L330.6 400.64L331.5 400.68L332.4 400.73L333.4 400.77L334.3 400.81L335.3 400.85L336.2 400.88L337.2 400.91L338.1 400.94L339.1 400.97L340 400.99L341 401.01L341.9 401.08L342.9 401.15" stroke="#ff0000" stroke-width="2.3"/>
</g>
<circle cx="46.23" cy="420.75" r="2.9" fill="#000"/>
<circle cx="62.17" cy="420.75" r="2.9" fill="#000"/>
<circle cx="85.71" cy="420.75" r="2.9" fill="#000"/>
<circle cx="105.26" cy="420.75" r="2.9" fill="#000"/>
<circle cx="121.96" cy="420.75" r="2.9" fill="#000"/>
<circle cx="143.03" cy="420.75" r="2.9" fill="#000"/>
<circle cx="159.92" cy="420.75" r="2.9" fill="#000"/>
<circle cx="178.52" cy="420.75" r="2.9" fill="#000"/>
<circle cx="198.45" cy="420.75" r="2.9" fill="#000"/>
<circle cx="217.43" cy="420.75" r="2.9" fill="#000"/>
<circle cx="238.12" cy="420.75" r="2.9" fill="#000"/>
<circle cx="252.35" cy="420.75" r="2.9" fill="#000"/>
<circle cx="275.89" cy="420.75" r="2.9" fill="#000"/>
<circle cx="296.01" cy="420.75" r="2.9" fill="#000"/>
<circle cx="312.33" cy="420.75" r="2.9" fill="#000"/>
<circle cx="331.31" cy="420.75" r="2.9" fill="#000"/>
<path d="M189.15 300.25V425.13" stroke="#2a2a2a" stroke-width="1.4" stroke-dasharray="3.25 1.0" fill="none"/>
<rect x="37.55" y="300.25" width="303.75" height="124.88" fill="none" stroke="#b0b0b0" stroke-width="0.9"/>
<g font-size="12.9" text-anchor="middle">
<text transform="translate(36.51 436.13) scale(0.945 1)">-80</text>
<text transform="translate(74.47 436.13) scale(0.945 1)">-60</text>
<text transform="translate(112.43 436.13) scale(0.945 1)">-40</text>
<text transform="translate(150.39 436.13) scale(0.945 1)">-20</text>
<text transform="translate(189.05 436.13) scale(0.945 1)">0</text>
<text transform="translate(227.01 436.13) scale(0.945 1)">20</text>
<text transform="translate(264.97 436.13) scale(0.945 1)">40</text>
<text transform="translate(302.93 436.13) scale(0.945 1)">60</text>
<text transform="translate(340.89 436.13) scale(0.945 1)">80</text>
</g>
<g font-size="12.9" text-anchor="end">
<text transform="translate(35.85 425.25) scale(0.945 1)">0</text>
<text transform="translate(35.85 400.13) scale(0.945 1)">10</text>
<text transform="translate(35.85 375.01) scale(0.945 1)">20</text>
<text transform="translate(35.85 349.89) scale(0.945 1)">30</text>
<text transform="translate(35.85 324.77) scale(0.945 1)">40</text>
</g>
<text x="46.8" y="325.15" font-size="18.9">D = 20 km</text>
<text transform="translate(17.8 362.99) rotate(-90)" text-anchor="middle" font-size="12.8">Strain rate [nano/yr]</text>
</g>
<g>
<path d="M411.35 425.13v-5.8M411.35 300.25v5.8M449.35 425.13v-5.8M449.35 300.25v5.8M487.35 425.13v-5.8M487.35 300.25v5.8M525.35 425.13v-5.8M525.35 300.25v5.8M563.35 425.13v-5.8M563.35 300.25v5.8M601.35 425.13v-5.8M601.35 300.25v5.8M639.35 425.13v-5.8M639.35 300.25v5.8M373.5 420.5h5.8M677.6 420.5h-5.8M373.5 395.38h5.8M677.6 395.38h-5.8M373.5 370.26h5.8M677.6 370.26h-5.8M373.5 345.14h5.8M677.6 345.14h-5.8M373.5 320.02h5.8M677.6 320.02h-5.8" stroke="#b6b6b6" stroke-width="0.9" fill="none"/>
<g clip-path="url(#c21)" fill="none" stroke-linejoin="round">
<path d="M371.45 402.17L372.4 402.1L373.4 402.03L374.3 401.96L375.2 401.89L376.2 401.82L377.2 401.74L378.1 401.67L379.1 401.59L380 401.51L381 401.43L381.9 401.35L382.9 401.27L383.8 401.19L384.8 401.1L385.7 401.01L386.7 400.92L387.6 400.83L388.6 400.74L389.5 400.65L390.5 400.55L391.4 400.46L392.4 400.36L393.3 400.26L394.2 400.15L395.2 400.05L396.2 399.94L397.1 399.83L398.1 399.72L399 399.61L400 399.49L400.9 399.37L401.9 399.25L402.8 399.13L403.8 399L404.7 398.87L405.7 398.74L406.6 398.61L407.6 398.47L408.5 398.33L409.5 398.19L410.4 398.04L411.4 397.89L412.3 397.74L413.2 397.58L414.2 397.42L415.2 397.26L416.1 397.1L417.1 396.93L418 396.75L419 396.57L419.9 396.39L420.9 396.21L421.8 396.01L422.8 395.82L423.7 395.62L424.7 395.42L425.6 395.21L426.6 394.99L427.5 394.77L428.5 394.55L429.4 394.32L430.4 394.08L431.3 393.84L432.2 393.59L433.2 393.34L434.2 393.08L435.1 392.81L436.1 392.53L437 392.25L438 391.97L438.9 391.67L439.9 391.37L440.8 391.05L441.8 390.73L442.7 390.41L443.7 390.07L444.6 389.72L445.6 389.37L446.5 389L447.5 388.63L448.4 388.24L449.4 387.84L450.3 387.44L451.2 387.02L452.2 386.59L453.2 386.14L454.1 385.69L455.1 385.22L456 384.74L457 384.24L457.9 383.73L458.9 383.21L459.8 382.67L460.8 382.11L461.7 381.54L462.7 380.95L463.6 380.34L464.6 379.72L465.5 379.07L466.5 378.41L467.4 377.73L468.4 377.02L469.3 376.3L470.2 375.55L471.2 374.79L472.2 373.99L473.1 373.18L474.1 372.34L475 371.48L476 370.59L476.9 369.67L477.9 368.73L478.8 367.76L479.8 366.76L480.7 365.73L481.7 364.68L482.6 363.59L483.6 362.47L484.5 361.33L485.5 360.15L486.4 358.94L487.4 357.7L488.3 356.43L489.2 355.13L490.2 353.79L491.2 352.43L492.1 351.03L493.1 349.61L494 348.15L495 346.67L495.9 345.16L496.9 343.63L497.8 342.08L498.8 340.5L499.7 338.91L500.7 337.3L501.6 335.68L502.6 334.06L503.5 332.43L504.5 330.8L505.4 329.17L506.4 327.56L507.3 325.96L508.2 324.38L509.2 322.83L510.2 321.32L511.1 319.85L512.1 318.43L513 317.06L514 315.76L514.9 314.52L515.9 313.37L516.8 312.3L517.8 311.32L518.7 310.45L519.6 309.67L520.6 309.01L521.6 308.45L522.5 308.02L523.5 307.71L524.4 307.52L525.4 307.46L526.3 307.52L527.2 307.71L528.2 308.02L529.1 308.45L530.1 309.01L531.1 309.67L532 310.45L533 311.32L533.9 312.3L534.9 313.37L535.8 314.52L536.8 315.76L537.7 317.06L538.6 318.43L539.6 319.85L540.6 321.32L541.5 322.83L542.5 324.38L543.4 325.96L544.4 327.56L545.3 329.17L546.2 330.8L547.2 332.43L548.1 334.06L549.1 335.68L550.1 337.3L551 338.91L552 340.5L552.9 342.08L553.9 343.63L554.8 345.16L555.8 346.67L556.7 348.15L557.6 349.61L558.6 351.03L559.6 352.43L560.5 353.79L561.5 355.13L562.4 356.43L563.4 357.7L564.3 358.94L565.2 360.15L566.2 361.33L567.1 362.47L568.1 363.59L569.1 364.68L570 365.73L571 366.76L571.9 367.76L572.9 368.73L573.8 369.67L574.8 370.59L575.7 371.48L576.6 372.34L577.6 373.18L578.6 373.99L579.5 374.79L580.5 375.55L581.4 376.3L582.4 377.02L583.3 377.73L584.2 378.41L585.2 379.07L586.1 379.72L587.1 380.34L588.1 380.95L589 381.54L590 382.11L590.9 382.67L591.9 383.21L592.8 383.73L593.8 384.24L594.7 384.74L595.6 385.22L596.6 385.69L597.6 386.14L598.5 386.59L599.5 387.02L600.4 387.44L601.4 387.84L602.3 388.24L603.2 388.63L604.2 389L605.1 389.37L606.1 389.72L607.1 390.07L608 390.41L609 390.73L609.9 391.05L610.9 391.37L611.8 391.67L612.8 391.97L613.7 392.25L614.6 392.53L615.6 392.81L616.5 393.08L617.5 393.34L618.5 393.59L619.4 393.84L620.4 394.08L621.3 394.32L622.2 394.55L623.2 394.77L624.1 394.99L625.1 395.21L626 395.42L627 395.62L628 395.82L628.9 396.01L629.9 396.21L630.8 396.39L631.8 396.57L632.7 396.75L633.6 396.93L634.6 397.1L635.5 397.26L636.5 397.42L637.5 397.58L638.4 397.74L639.4 397.89L640.3 398.04L641.2 398.19L642.2 398.33L643.1 398.47L644.1 398.61L645 398.74L646 398.87L647 399L647.9 399.13L648.9 399.25L649.8 399.37L650.8 399.49L651.7 399.61L652.6 399.72L653.6 399.83L654.5 399.94L655.5 400.05L656.5 400.15L657.4 400.26L658.4 400.36L659.3 400.46L660.2 400.55L661.2 400.65L662.1 400.74L663.1 400.83L664 400.92L665 401.01L666 401.1L666.9 401.19L667.9 401.27L668.8 401.35L669.8 401.43L670.7 401.51L671.6 401.59L672.6 401.67L673.5 401.74L674.5 401.82L675.5 401.89L676.4 401.96L677.4 402.03L678.3 402.1L679.2 402.17" stroke="#000" stroke-width="1.7"/>
<path d="M371.45 399.4L372.4 399.34L373.4 399.27L374.3 399.31L375.2 399.34L376.2 399.37L377.2 399.4L378.1 399.43L379.1 399.45L380 399.47L381 399.48L381.9 399.49L382.9 399.5L383.8 399.5L384.8 399.5L385.7 399.5L386.7 399.49L387.6 399.48L388.6 399.47L389.5 399.45L390.5 399.42L391.4 399.4L392.4 399.37L393.3 399.33L394.2 399.29L395.2 399.25L396.2 399.2L397.1 399.15L398.1 399.1L399 399.04L400 398.98L400.9 398.92L401.9 398.85L402.8 398.78L403.8 398.71L404.7 398.63L405.7 398.55L406.6 398.47L407.6 398.38L408.5 398.29L409.5 398.2L410.4 398.11L411.4 398.01L412.3 397.91L413.2 397.8L414.2 397.69L415.2 397.58L416.1 397.46L417.1 397.33L418 397.19L419 397.05L419.9 396.9L420.9 396.74L421.8 396.58L422.8 396.4L423.7 396.22L424.7 396.03L425.6 395.82L426.6 395.61L427.5 395.39L428.5 395.15L429.4 394.91L430.4 394.66L431.3 394.39L432.2 394.12L433.2 393.84L434.2 393.55L435.1 393.25L436.1 392.94L437 392.62L438 392.3L438.9 391.97L439.9 391.63L440.8 391.28L441.8 390.93L442.7 390.57L443.7 390.21L444.6 389.83L445.6 389.45L446.5 389.07L447.5 388.67L448.4 388.27L449.4 387.85L450.3 387.43L451.2 387L452.2 386.55L453.2 386.1L454.1 385.63L455.1 385.15L456 384.66L457 384.16L457.9 383.64L458.9 383.11L459.8 382.56L460.8 382L461.7 381.41L462.7 380.82L463.6 380.2L464.6 379.57L465.5 378.92L466.5 378.25L467.4 377.56L468.4 376.84L469.3 376.11L470.2 375.36L471.2 374.58L472.2 373.78L473.1 372.95L474.1 372.11L475 371.23L476 370.33L476.9 369.4L477.9 368.45L478.8 367.47L479.8 366.46L480.7 365.42L481.7 364.35L482.6 363.26L483.6 362.13L484.5 360.97L485.5 359.78L486.4 358.56L487.4 357.3L488.3 356.02L489.2 354.7L490.2 353.36L491.2 351.98L492.1 350.57L493.1 349.14L494 347.67L495 346.18L495.9 344.67L496.9 343.13L497.8 341.57L498.8 340L499.7 338.41L500.7 336.81L501.6 335.2L502.6 333.59L503.5 331.99L504.5 330.39L505.4 328.8L506.4 327.24L507.3 325.7L508.2 324.2L509.2 322.74L510.2 321.32L511.1 319.96L512.1 318.65L513 317.42L514 316.25L514.9 315.16L515.9 314.15L516.8 313.23L517.8 312.4L518.7 311.66L519.6 311.02L520.6 310.47L521.6 310.02L522.5 309.67L523.5 309.42L524.4 309.27L525.4 309.22L526.3 309.27L527.2 309.42L528.2 309.67L529.1 310.02L530.1 310.47L531.1 311.02L532 311.66L533 312.4L533.9 313.23L534.9 314.15L535.8 315.16L536.8 316.25L537.7 317.42L538.6 318.65L539.6 319.96L540.6 321.32L541.5 322.74L542.5 324.2L543.4 325.7L544.4 327.24L545.3 328.8L546.2 330.39L547.2 331.99L548.1 333.59L549.1 335.2L550.1 336.81L551 338.41L552 340L552.9 341.57L553.9 343.13L554.8 344.67L555.8 346.18L556.7 347.67L557.6 349.14L558.6 350.57L559.6 351.98L560.5 353.36L561.5 354.7L562.4 356.02L563.4 357.3L564.3 358.56L565.2 359.78L566.2 360.97L567.1 362.13L568.1 363.26L569.1 364.35L570 365.42L571 366.46L571.9 367.47L572.9 368.45L573.8 369.4L574.8 370.33L575.7 371.23L576.6 372.11L577.6 372.95L578.6 373.78L579.5 374.58L580.5 375.36L581.4 376.11L582.4 376.84L583.3 377.56L584.2 378.25L585.2 378.92L586.1 379.57L587.1 380.2L588.1 380.82L589 381.41L590 382L590.9 382.56L591.9 383.11L592.8 383.64L593.8 384.16L594.7 384.66L595.6 385.15L596.6 385.63L597.6 386.1L598.5 386.55L599.5 387L600.4 387.43L601.4 387.85L602.3 388.27L603.2 388.67L604.2 389.07L605.1 389.45L606.1 389.83L607.1 390.21L608 390.57L609 390.93L609.9 391.28L610.9 391.63L611.8 391.97L612.8 392.3L613.7 392.62L614.6 392.94L615.6 393.25L616.5 393.55L617.5 393.84L618.5 394.12L619.4 394.39L620.4 394.66L621.3 394.91L622.2 395.15L623.2 395.39L624.1 395.61L625.1 395.82L626 396.03L627 396.22L628 396.4L628.9 396.58L629.9 396.74L630.8 396.9L631.8 397.05L632.7 397.19L633.6 397.33L634.6 397.46L635.5 397.58L636.5 397.69L637.5 397.8L638.4 397.91L639.4 398.01L640.3 398.11L641.2 398.2L642.2 398.29L643.1 398.38L644.1 398.47L645 398.55L646 398.63L647 398.71L647.9 398.78L648.9 398.85L649.8 398.92L650.8 398.98L651.7 399.04L652.6 399.1L653.6 399.15L654.5 399.2L655.5 399.25L656.5 399.29L657.4 399.33L658.4 399.37L659.3 399.4L660.2 399.42L661.2 399.45L662.1 399.47L663.1 399.48L664 399.49L665 399.5L666 399.5L666.9 399.5L667.9 399.5L668.8 399.49L669.8 399.48L670.7 399.47L671.6 399.45L672.6 399.43L673.5 399.4L674.5 399.37L675.5 399.34L676.4 399.31L677.4 399.27L678.3 399.34L679.2 399.4" stroke="#1e90ff" stroke-width="1.5"/>
<path d="M371.45 399.36L372.4 399.29L373.4 399.22L374.3 399.26L375.2 399.3L376.2 399.33L377.2 399.35L378.1 399.38L379.1 399.4L380 399.42L381 399.43L381.9 399.44L382.9 399.45L383.8 399.45L384.8 399.45L385.7 399.44L386.7 399.43L387.6 399.42L388.6 399.4L389.5 399.38L390.5 399.36L391.4 399.33L392.4 399.3L393.3 399.26L394.2 399.22L395.2 399.17L396.2 399.13L397.1 399.07L398.1 399.02L399 398.96L400 398.9L400.9 398.83L401.9 398.76L402.8 398.69L403.8 398.61L404.7 398.53L405.7 398.45L406.6 398.37L407.6 398.28L408.5 398.19L409.5 398.09L410.4 397.99L411.4 397.89L412.3 397.79L413.2 397.68L414.2 397.57L415.2 397.45L416.1 397.32L417.1 397.19L418 397.05L419 396.91L419.9 396.75L420.9 396.59L421.8 396.42L422.8 396.24L423.7 396.05L424.7 395.85L425.6 395.65L426.6 395.43L427.5 395.2L428.5 394.96L429.4 394.71L430.4 394.46L431.3 394.19L432.2 393.91L433.2 393.62L434.2 393.32L435.1 393.02L436.1 392.7L437 392.38L438 392.05L438.9 391.71L439.9 391.36L440.8 391.01L441.8 390.65L442.7 390.29L443.7 389.91L444.6 389.53L445.6 389.14L446.5 388.75L447.5 388.34L448.4 387.93L449.4 387.5L450.3 387.07L451.2 386.63L452.2 386.18L453.2 385.71L454.1 385.23L455.1 384.75L456 384.24L457 383.73L457.9 383.2L458.9 382.65L459.8 382.09L460.8 381.52L461.7 380.92L462.7 380.31L463.6 379.69L464.6 379.04L465.5 378.37L466.5 377.69L467.4 376.99L468.4 376.26L469.3 375.52L470.2 374.75L471.2 373.96L472.2 373.14L473.1 372.31L474.1 371.45L475 370.56L476 369.65L476.9 368.72L477.9 367.76L478.8 366.77L479.8 365.75L480.7 364.71L481.7 363.64L482.6 362.55L483.6 361.42L484.5 360.27L485.5 359.09L486.4 357.89L487.4 356.65L488.3 355.39L489.2 354.11L490.2 352.79L491.2 351.46L492.1 350.1L493.1 348.72L494 347.32L495 345.9L495.9 344.46L496.9 343.01L497.8 341.54L498.8 340.07L499.7 338.59L500.7 337.1L501.6 335.61L502.6 334.13L503.5 332.66L504.5 331.19L505.4 329.75L506.4 328.32L507.3 326.92L508.2 325.54L509.2 324.21L510.2 322.91L511.1 321.66L512.1 320.45L513 319.31L514 318.22L514.9 317.2L515.9 316.25L516.8 315.38L517.8 314.58L518.7 313.87L519.6 313.25L520.6 312.71L521.6 312.27L522.5 311.93L523.5 311.68L524.4 311.53L525.4 311.48L526.3 311.53L527.2 311.68L528.2 311.93L529.1 312.27L530.1 312.71L531.1 313.25L532 313.87L533 314.58L533.9 315.38L534.9 316.25L535.8 317.2L536.8 318.22L537.7 319.31L538.6 320.45L539.6 321.66L540.6 322.91L541.5 324.21L542.5 325.54L543.4 326.92L544.4 328.32L545.3 329.75L546.2 331.19L547.2 332.66L548.1 334.13L549.1 335.61L550.1 337.1L551 338.59L552 340.07L552.9 341.54L553.9 343.01L554.8 344.46L555.8 345.9L556.7 347.32L557.6 348.72L558.6 350.1L559.6 351.46L560.5 352.79L561.5 354.11L562.4 355.39L563.4 356.65L564.3 357.89L565.2 359.09L566.2 360.27L567.1 361.42L568.1 362.55L569.1 363.64L570 364.71L571 365.75L571.9 366.77L572.9 367.76L573.8 368.72L574.8 369.65L575.7 370.56L576.6 371.45L577.6 372.31L578.6 373.14L579.5 373.96L580.5 374.75L581.4 375.52L582.4 376.26L583.3 376.99L584.2 377.69L585.2 378.37L586.1 379.04L587.1 379.69L588.1 380.31L589 380.92L590 381.52L590.9 382.09L591.9 382.65L592.8 383.2L593.8 383.73L594.7 384.24L595.6 384.75L596.6 385.23L597.6 385.71L598.5 386.18L599.5 386.63L600.4 387.07L601.4 387.5L602.3 387.93L603.2 388.34L604.2 388.75L605.1 389.14L606.1 389.53L607.1 389.91L608 390.29L609 390.65L609.9 391.01L610.9 391.36L611.8 391.71L612.8 392.05L613.7 392.38L614.6 392.7L615.6 393.02L616.5 393.32L617.5 393.62L618.5 393.91L619.4 394.19L620.4 394.46L621.3 394.71L622.2 394.96L623.2 395.2L624.1 395.43L625.1 395.65L626 395.85L627 396.05L628 396.24L628.9 396.42L629.9 396.59L630.8 396.75L631.8 396.91L632.7 397.05L633.6 397.19L634.6 397.32L635.5 397.45L636.5 397.57L637.5 397.68L638.4 397.79L639.4 397.89L640.3 397.99L641.2 398.09L642.2 398.19L643.1 398.28L644.1 398.37L645 398.45L646 398.53L647 398.61L647.9 398.69L648.9 398.76L649.8 398.83L650.8 398.9L651.7 398.96L652.6 399.02L653.6 399.07L654.5 399.13L655.5 399.17L656.5 399.22L657.4 399.26L658.4 399.3L659.3 399.33L660.2 399.36L661.2 399.38L662.1 399.4L663.1 399.42L664 399.43L665 399.44L666 399.45L666.9 399.45L667.9 399.45L668.8 399.44L669.8 399.43L670.7 399.42L671.6 399.4L672.6 399.38L673.5 399.35L674.5 399.33L675.5 399.3L676.4 399.26L677.4 399.22L678.3 399.29L679.2 399.36" stroke="#ff0000" stroke-width="2.3"/>
</g>
<circle cx="392.54" cy="420.75" r="2.9" fill="#000"/>
<circle cx="430.16" cy="420.75" r="2.9" fill="#000"/>
<circle cx="469.11" cy="420.75" r="2.9" fill="#000"/>
<circle cx="506.54" cy="420.75" r="2.9" fill="#000"/>
<circle cx="543.59" cy="420.75" r="2.9" fill="#000"/>
<circle cx="582.35" cy="420.75" r="2.9" fill="#000"/>
<circle cx="615.98" cy="420.75" r="2.9" fill="#000"/>
<circle cx="662.15" cy="420.75" r="2.9" fill="#000"/>
<path d="M525.35 300.25V425.13" stroke="#000" stroke-width="1.0" stroke-dasharray="4.4 1.7" fill="none"/>
<rect x="373.5" y="300.25" width="304.1" height="124.88" fill="none" stroke="#b0b0b0" stroke-width="0.9"/>
<g font-size="12.9" text-anchor="middle">
<text transform="translate(372.55 436.13) scale(0.945 1)">-80</text>
<text transform="translate(410.55 436.13) scale(0.945 1)">-60</text>
<text transform="translate(448.55 436.13) scale(0.945 1)">-40</text>
<text transform="translate(486.55 436.13) scale(0.945 1)">-20</text>
<text transform="translate(525.25 436.13) scale(0.945 1)">0</text>
<text transform="translate(563.25 436.13) scale(0.945 1)">20</text>
<text transform="translate(601.25 436.13) scale(0.945 1)">40</text>
<text transform="translate(639.25 436.13) scale(0.945 1)">60</text>
<text transform="translate(677.25 436.13) scale(0.945 1)">80</text>
</g>
<g font-size="12.9" text-anchor="end">
<text transform="translate(371.8 425.25) scale(0.945 1)">0</text>
<text transform="translate(371.8 400.13) scale(0.945 1)">10</text>
<text transform="translate(371.8 375.01) scale(0.945 1)">20</text>
<text transform="translate(371.8 349.89) scale(0.945 1)">30</text>
<text transform="translate(371.8 324.77) scale(0.945 1)">40</text>
</g>
</g>
<text transform="translate(188.8 14.1) scale(1.058 1)" font-size="18.2" text-anchor="middle">A = 10 km</text>
<text transform="translate(525.2 14.1) scale(1.058 1)" font-size="18.2" text-anchor="middle">A = 20 km</text>
<text x="189" y="450.8" font-size="15.5" text-anchor="middle">x [km]</text>
<text x="525" y="450.8" font-size="15.5" text-anchor="middle">x [km]</text>
<g font-size="11.7">
<path d="M540.8 32.7H566.2" stroke="#ff0000" stroke-width="2.3"/>
<text x="574.7" y="36.5">Proposed method</text>
<path d="M540.8 49.25H566.2" stroke="#1e90ff" stroke-width="1.5"/>
<text x="574.7" y="53.05">L2 regularization</text>
<path d="M540.8 65.8H566.2" stroke="#000" stroke-width="1.5"/>
<text x="574.7" y="69.6">True value</text>
</g>
</svg>
</body></html>
